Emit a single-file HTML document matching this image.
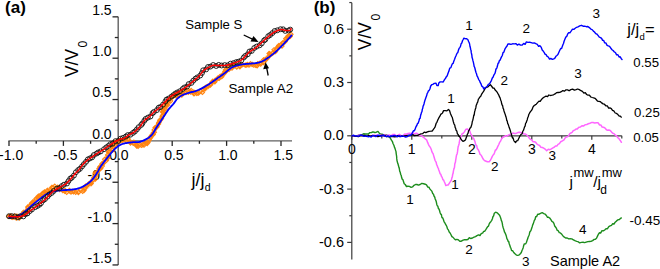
<!DOCTYPE html>
<html><head><meta charset="utf-8"><style>
html,body{margin:0;padding:0;background:#fff;}
body{width:660px;height:269px;overflow:hidden;}
svg{display:block;font-family:"Liberation Sans", sans-serif;fill:#000;}
</style></head><body>
<svg width="660" height="269" viewBox="0 0 660 269">
<line x1="8.4" y1="140.9" x2="292" y2="140.9" stroke="#606060" stroke-width="1.4"/>
<line x1="9.0" y1="140.9" x2="9.0" y2="145.9" stroke="#262626" stroke-width="1.3"/>
<line x1="63.4" y1="140.9" x2="63.4" y2="145.9" stroke="#262626" stroke-width="1.3"/>
<line x1="117.8" y1="140.9" x2="117.8" y2="145.9" stroke="#262626" stroke-width="1.3"/>
<line x1="172.2" y1="140.9" x2="172.2" y2="145.9" stroke="#262626" stroke-width="1.3"/>
<line x1="226.6" y1="140.9" x2="226.6" y2="145.9" stroke="#262626" stroke-width="1.3"/>
<line x1="281.0" y1="140.9" x2="281.0" y2="145.9" stroke="#262626" stroke-width="1.3"/>
<line x1="36.2" y1="140.9" x2="36.2" y2="143.8" stroke="#262626" stroke-width="1.3"/>
<line x1="90.6" y1="140.9" x2="90.6" y2="143.8" stroke="#262626" stroke-width="1.3"/>
<line x1="145.0" y1="140.9" x2="145.0" y2="143.8" stroke="#262626" stroke-width="1.3"/>
<line x1="199.39999999999998" y1="140.9" x2="199.39999999999998" y2="143.8" stroke="#262626" stroke-width="1.3"/>
<line x1="253.8" y1="140.9" x2="253.8" y2="143.8" stroke="#262626" stroke-width="1.3"/>
<line x1="118.2" y1="16.7" x2="118.2" y2="264.9" stroke="#606060" stroke-width="1.4"/>
<line x1="112.5" y1="16.849999999999994" x2="118.2" y2="16.849999999999994" stroke="#262626" stroke-width="1.3"/>
<line x1="112.5" y1="58.2" x2="118.2" y2="58.2" stroke="#262626" stroke-width="1.3"/>
<line x1="112.5" y1="99.55000000000001" x2="118.2" y2="99.55000000000001" stroke="#262626" stroke-width="1.3"/>
<line x1="112.5" y1="140.9" x2="118.2" y2="140.9" stroke="#262626" stroke-width="1.3"/>
<line x1="112.5" y1="182.25" x2="118.2" y2="182.25" stroke="#262626" stroke-width="1.3"/>
<line x1="112.5" y1="223.60000000000002" x2="118.2" y2="223.60000000000002" stroke="#262626" stroke-width="1.3"/>
<line x1="112.5" y1="264.95000000000005" x2="118.2" y2="264.95000000000005" stroke="#262626" stroke-width="1.3"/>
<line x1="114.8" y1="37.525000000000006" x2="118.2" y2="37.525000000000006" stroke="#262626" stroke-width="1.3"/>
<line x1="114.8" y1="78.875" x2="118.2" y2="78.875" stroke="#262626" stroke-width="1.3"/>
<line x1="114.8" y1="120.22500000000001" x2="118.2" y2="120.22500000000001" stroke="#262626" stroke-width="1.3"/>
<line x1="114.8" y1="161.57500000000002" x2="118.2" y2="161.57500000000002" stroke="#262626" stroke-width="1.3"/>
<line x1="114.8" y1="202.925" x2="118.2" y2="202.925" stroke="#262626" stroke-width="1.3"/>
<line x1="114.8" y1="244.275" x2="118.2" y2="244.275" stroke="#262626" stroke-width="1.3"/>
<text x="92.20" y="14.75" font-size="14" font-weight="normal" fill="#000">1.5</text>
<text x="92.20" y="56.10" font-size="14" font-weight="normal" fill="#000">1.0</text>
<text x="92.20" y="97.45" font-size="14" font-weight="normal" fill="#000">0.5</text>
<text x="92.20" y="138.80" font-size="14" font-weight="normal" fill="#000">0.0</text>
<text x="87.60" y="180.15" font-size="14" font-weight="normal" fill="#000">-0.5</text>
<text x="87.60" y="221.50" font-size="14" font-weight="normal" fill="#000">-1.0</text>
<text x="87.60" y="262.85" font-size="14" font-weight="normal" fill="#000">-1.5</text>
<text x="-0.90" y="159.60" font-size="14" font-weight="normal" fill="#000">-1.0</text>
<text x="53.35" y="159.60" font-size="14" font-weight="normal" fill="#000">-0.5</text>
<text x="109.20" y="159.60" font-size="14" font-weight="normal" fill="#000">0.0</text>
<text x="164.20" y="159.60" font-size="14" font-weight="normal" fill="#000">0.5</text>
<text x="218.20" y="159.60" font-size="14" font-weight="normal" fill="#000">1.0</text>
<text x="273.50" y="159.60" font-size="14" font-weight="normal" fill="#000">1.5</text>
<polyline points="9.0,217.5 9.3,217.5 9.6,217.5 10.0,217.4 10.4,217.4 10.9,217.4 11.4,217.4 11.9,217.4 12.4,217.4 13.0,217.4 13.6,217.3 14.1,217.3 14.7,217.3 15.3,217.2 15.9,217.2 16.5,217.1 17.0,217.0 17.6,217.0 18.1,216.9 18.6,216.8 19.1,216.6 19.5,216.5 20.0,216.3 20.5,216.1 21.0,215.9 21.4,215.6 21.8,215.4 22.2,215.1 22.6,214.8 23.0,214.5 23.3,214.2 23.7,213.9 24.1,213.5 24.4,213.2 24.8,212.8 25.2,212.4 25.6,211.9 26.0,211.5 26.3,211.2 26.6,210.8 26.9,210.5 27.2,210.1 27.5,209.7 27.8,209.3 28.1,208.8 28.4,208.4 28.7,208.0 29.0,207.5 29.3,207.1 29.6,206.6 29.9,206.2 30.2,205.7 30.5,205.3 30.9,204.8 31.2,204.4 31.5,204.0 31.8,203.5 32.1,203.1 32.4,202.7 32.7,202.4 33.0,202.0 33.4,201.6 33.7,201.2 34.1,200.8 34.5,200.4 34.9,200.0 35.2,199.6 35.6,199.3 36.0,198.9 36.3,198.6 36.7,198.2 37.1,197.9 37.5,197.6 37.8,197.2 38.2,196.9 38.6,196.6 38.9,196.3 39.3,196.0 39.6,195.7 40.0,195.4 40.4,195.0 40.9,194.7 41.3,194.3 41.8,194.0 42.2,193.7 42.6,193.3 43.1,193.0 43.5,192.7 43.9,192.4 44.4,192.2 44.8,191.9 45.2,191.6 45.6,191.3 46.1,191.1 46.5,190.8 47.0,190.5 47.4,190.2 47.9,190.0 48.4,189.7 48.8,189.4 49.3,189.1 49.8,188.9 50.2,188.6 50.7,188.4 51.1,188.2 51.6,188.0 52.1,187.8 52.5,187.7 53.0,187.6 53.5,187.5 54.0,187.5 54.5,187.4 55.0,187.4 55.5,187.5 56.0,187.5 56.5,187.6 57.0,187.7 57.5,187.7 58.0,187.8 58.5,188.0 59.0,188.1 59.5,188.2 60.0,188.3 60.4,188.5 60.9,188.6 61.4,188.8 61.8,189.0 62.3,189.2 62.8,189.5 63.2,189.7 63.7,189.9 64.1,190.1 64.6,190.3 65.1,190.5 65.5,190.6 66.0,190.8 66.5,190.9 67.0,191.1 67.5,191.2 68.0,191.4 68.5,191.5 69.0,191.6 69.5,191.7 70.0,191.8 70.5,191.9 71.0,192.0 71.5,192.0 72.0,192.1 72.5,192.1 73.0,192.1 73.5,192.1 74.0,192.1 74.5,192.1 75.0,192.1 75.5,192.1 76.0,192.1 76.5,192.0 77.0,191.9 77.5,191.9 78.0,191.8 78.5,191.6 79.0,191.5 79.5,191.4 79.9,191.2 80.4,191.0 80.9,190.8 81.4,190.6 81.8,190.4 82.3,190.2 82.8,189.9 83.2,189.7 83.7,189.4 84.2,189.1 84.7,188.8 85.1,188.5 85.6,188.2 86.0,187.9 86.4,187.7 86.8,187.4 87.2,187.1 87.6,186.8 88.0,186.5 88.4,186.2 88.8,185.8 89.2,185.5 89.5,185.2 89.9,184.8 90.3,184.4 90.7,184.1 91.1,183.7 91.4,183.3 91.8,182.8 92.1,182.4 92.4,182.0 92.6,181.7 92.9,181.3 93.1,180.9 93.3,180.5 93.5,180.0 93.7,179.6 93.9,179.2 94.1,178.7 94.3,178.3 94.5,177.8 94.8,177.4 95.0,176.9 95.2,176.4 95.4,176.0 95.6,175.5 95.8,175.0 96.1,174.5 96.3,174.0 96.6,173.5 96.9,173.0 97.1,172.6 97.4,172.2 97.6,171.8 97.9,171.4 98.1,170.9 98.4,170.5 98.7,170.0 99.0,169.6 99.2,169.1 99.5,168.7 99.8,168.2 100.1,167.8 100.4,167.3 100.7,166.9 101.0,166.4 101.3,165.9 101.6,165.5 101.9,165.0 102.2,164.6 102.4,164.1 102.7,163.7 103.0,163.3 103.3,162.8 103.5,162.4 103.8,162.0 104.1,161.6 104.3,161.2 104.6,160.7 104.9,160.2 105.2,159.8 105.5,159.3 105.8,158.8 106.0,158.4 106.3,157.9 106.6,157.5 106.8,157.1 107.1,156.7 107.3,156.2 107.6,155.8 107.9,155.4 108.1,155.0 108.4,154.6 108.6,154.1 108.9,153.7 109.1,153.3 109.4,152.9 109.6,152.4 109.9,152.0 110.2,151.5 110.4,151.1 110.7,150.6 111.0,150.1 111.2,149.6 111.5,149.1 111.7,148.6 112.0,148.1 112.3,147.6 112.5,147.1 112.8,146.7 113.0,146.2 113.3,145.7 113.6,145.2 113.8,144.8 114.1,144.4 114.3,144.0 114.6,143.6 114.9,143.2 115.1,142.9 115.4,142.6 115.9,142.1 116.3,141.7 116.8,141.4 117.3,141.1 117.7,140.9 118.2,140.7 118.7,140.5 119.1,140.4 119.6,140.3 120.1,140.1 120.5,140.0 121.0,139.9 121.5,139.8 122.0,139.6 122.5,139.5 123.0,139.4 123.5,139.4 124.1,139.3 124.6,139.3 125.1,139.3 125.6,139.3 126.1,139.4 126.6,139.5 127.1,139.6 127.5,139.8 128.0,140.0 128.4,140.3 128.8,140.6 129.3,140.9 129.7,141.2 130.2,141.5 130.7,141.8 131.2,142.1 131.7,142.3 132.2,142.6 132.6,142.8 133.1,143.0 133.6,143.3 134.1,143.5 134.6,143.7 135.1,144.0 135.6,144.2 136.2,144.4 136.7,144.6 137.2,144.8 137.7,145.0 138.2,145.1 138.7,145.3 139.2,145.3 139.6,145.4 140.2,145.4 140.7,145.4 141.3,145.3 141.8,145.2 142.3,145.1 142.8,144.9 143.2,144.7 143.7,144.5 144.2,144.2 144.7,143.9 145.2,143.6 145.6,143.3 145.9,143.1 146.3,142.8 146.7,142.5 147.1,142.2 147.5,141.9 147.8,141.5 148.2,141.2 148.6,140.8 149.0,140.4 149.3,140.0 149.7,139.5 150.1,139.0 150.4,138.5 150.8,138.0 151.0,137.6 151.3,137.3 151.5,136.9 151.7,136.5 152.0,136.0 152.2,135.6 152.4,135.2 152.7,134.7 152.9,134.2 153.1,133.8 153.3,133.3 153.6,132.8 153.8,132.3 154.0,131.8 154.2,131.3 154.5,130.8 154.7,130.3 154.9,129.8 155.2,129.3 155.4,128.8 155.6,128.4 155.9,127.9 156.1,127.4 156.3,127.0 156.5,126.5 156.8,126.1 157.0,125.6 157.2,125.2 157.5,124.7 157.7,124.3 157.9,123.8 158.2,123.4 158.4,122.9 158.6,122.5 158.9,122.0 159.1,121.5 159.4,121.1 159.6,120.6 159.8,120.2 160.0,119.7 160.3,119.3 160.5,118.8 160.7,118.4 160.9,117.9 161.1,117.5 161.3,117.1 161.5,116.6 161.7,116.2 161.9,115.7 162.1,115.2 162.3,114.7 162.5,114.2 162.7,113.6 162.8,113.1 163.0,112.6 163.2,112.1 163.3,111.6 163.5,111.1 163.6,110.6 163.8,110.1 163.9,109.6 164.1,109.2 164.3,108.7 164.4,108.2 164.6,107.8 164.8,107.3 165.0,106.9 165.2,106.4 165.4,106.0 165.7,105.5 165.9,105.0 166.2,104.6 166.5,104.1 166.8,103.6 167.1,103.2 167.4,102.7 167.7,102.3 168.0,101.9 168.3,101.5 168.6,101.1 168.9,100.7 169.3,100.3 169.6,99.9 169.9,99.6 170.3,99.2 170.6,98.9 171.0,98.6 171.4,98.3 171.8,98.0 172.3,97.7 172.7,97.4 173.1,97.2 173.6,97.0 174.0,96.7 174.5,96.5 175.0,96.3 175.4,96.1 175.9,95.9 176.4,95.8 176.9,95.6 177.4,95.3 177.9,95.1 178.4,94.9 178.8,94.7 179.3,94.5 179.7,94.2 180.2,94.0 180.7,93.8 181.2,93.5 181.7,93.2 182.2,93.0 182.6,92.7 183.1,92.5 183.6,92.3 184.1,92.0 184.6,91.8 185.1,91.6 185.6,91.5 186.0,91.3 186.5,91.2 187.0,91.1 187.4,91.0 187.9,90.9 188.5,91.0 189.0,91.0 189.5,91.1 190.0,91.2 190.5,91.4 191.0,91.5 191.5,91.7 192.0,91.9 192.5,92.0 192.9,92.2 193.4,92.3 193.9,92.4 194.4,92.5 194.9,92.5 195.4,92.5 195.9,92.5 196.4,92.5 196.9,92.4 197.4,92.4 197.9,92.3 198.4,92.2 198.8,92.1 199.3,92.0 199.8,91.9 200.3,91.7 200.8,91.6 201.3,91.4 201.8,91.2 202.3,91.0 202.7,90.8 203.1,90.6 203.5,90.4 204.0,90.1 204.4,89.9 204.8,89.6 205.2,89.3 205.6,89.0 206.1,88.7 206.5,88.4 206.9,88.1 207.3,87.8 207.7,87.5 208.1,87.1 208.6,86.8 209.0,86.5 209.4,86.1 209.8,85.8 210.2,85.5 210.6,85.2 211.0,84.8 211.4,84.5 211.8,84.1 212.1,83.8 212.5,83.4 212.9,83.1 213.3,82.7 213.7,82.4 214.1,82.0 214.5,81.6 214.9,81.3 215.3,80.9 215.6,80.5 216.0,80.2 216.4,79.8 216.8,79.5 217.2,79.1 217.6,78.7 218.0,78.4 218.4,78.0 218.8,77.7 219.1,77.3 219.5,77.0 219.9,76.6 220.3,76.3 220.7,75.9 221.1,75.5 221.5,75.2 221.9,74.8 222.2,74.5 222.6,74.2 223.0,73.8 223.4,73.5 223.8,73.1 224.2,72.8 224.6,72.5 225.0,72.2 225.4,71.8 225.8,71.5 226.2,71.1 226.6,70.8 227.1,70.4 227.5,70.1 227.9,69.8 228.3,69.4 228.7,69.1 229.1,68.8 229.5,68.5 230.0,68.2 230.4,68.0 230.8,67.7 231.3,67.4 231.7,67.2 232.2,67.0 232.7,66.8 233.2,66.6 233.7,66.5 234.2,66.3 234.7,66.2 235.2,66.1 235.7,65.9 236.2,65.8 236.7,65.8 237.3,65.7 237.8,65.6 238.3,65.5 238.9,65.5 239.4,65.4 239.9,65.3 240.5,65.3 241.0,65.2 241.5,65.2 242.0,65.2 242.5,65.1 243.1,65.1 243.6,65.1 244.1,65.1 244.7,65.1 245.2,65.2 245.7,65.2 246.3,65.2 246.8,65.2 247.3,65.3 247.9,65.3 248.4,65.3 248.9,65.3 249.4,65.3 249.9,65.3 250.3,65.3 250.8,65.3 251.4,65.3 252.0,65.2 252.5,65.2 253.1,65.1 253.6,65.1 254.2,65.0 254.7,64.9 255.2,64.8 255.7,64.8 256.2,64.7 256.7,64.6 257.1,64.5 257.6,64.4 258.0,64.3 258.6,64.1 259.2,64.0 259.8,63.8 260.3,63.7 260.8,63.5 261.2,63.3 261.7,63.1 262.1,62.8 262.5,62.5 262.9,62.2 263.1,61.8 263.3,61.5 263.5,61.1 263.7,60.7 263.9,60.2 264.3,59.7 264.8,59.2 265.4,58.5 265.7,58.3 266.0,58.0 266.3,57.7 266.6,57.5 266.9,57.2 267.3,56.9 267.6,56.6 268.0,56.3 268.4,55.9 268.8,55.6 269.2,55.3 269.7,55.0 270.1,54.6 270.5,54.3 271.0,53.9 271.4,53.6 271.9,53.2 272.3,52.9 272.7,52.5 273.2,52.2 273.6,51.8 274.0,51.4 274.5,51.1 274.9,50.7 275.3,50.4 275.7,50.0 276.1,49.7 276.4,49.3 276.8,49.0 277.2,48.6 277.6,48.2 278.0,47.9 278.4,47.5 278.8,47.1 279.2,46.7 279.6,46.4 280.0,46.0 280.3,45.6 280.7,45.2 281.1,44.8 281.5,44.4 281.9,44.0 282.3,43.7 282.6,43.3 283.0,42.9 283.4,42.6 283.7,42.2 284.1,41.9 284.4,41.5 284.7,41.2 285.0,40.9 285.3,40.6 285.6,40.3 285.9,40.0 286.4,39.5 286.9,39.0 287.3,38.5 287.8,38.1 288.2,37.6 288.6,37.2 288.9,36.8 289.3,36.4 289.6,36.1 289.9,35.8 290.1,35.5 290.4,35.2 290.6,34.9 290.8,34.7 291.0,34.5" fill="none" stroke="#ffa040" stroke-width="4.0" stroke-linejoin="round" stroke-linecap="round" opacity="0.35"/>
<path d="M8.6,214.3L10.7,216.4L8.6,218.5L6.5,216.4ZM10.7,214.0L12.8,216.1L10.7,218.2L8.6,216.1ZM11.9,214.9L14.0,217.0L11.9,219.1L9.8,217.0ZM12.1,215.3L14.2,217.4L12.1,219.5L10.0,217.4ZM13.2,215.0L15.3,217.1L13.2,219.2L11.1,217.1ZM14.5,213.8L16.6,215.9L14.5,218.0L12.4,215.9ZM16.3,216.1L18.4,218.2L16.3,220.3L14.2,218.2ZM16.8,214.0L18.9,216.1L16.8,218.2L14.7,216.1ZM19.3,216.0L21.4,218.1L19.3,220.2L17.2,218.1ZM20.7,213.7L22.8,215.8L20.7,217.9L18.6,215.8ZM22.8,211.8L24.9,213.9L22.8,216.0L20.7,213.9ZM23.7,211.8L25.8,213.9L23.7,216.0L21.6,213.9ZM23.4,210.2L25.5,212.3L23.4,214.4L21.3,212.3ZM24.8,211.3L26.9,213.4L24.8,215.5L22.7,213.4ZM25.4,209.7L27.5,211.8L25.4,213.9L23.3,211.8ZM27.2,208.0L29.3,210.1L27.2,212.2L25.1,210.1ZM27.9,205.8L30.0,207.9L27.9,210.0L25.8,207.9ZM27.8,204.9L29.9,207.0L27.8,209.1L25.7,207.0ZM30.0,204.3L32.1,206.4L30.0,208.5L27.9,206.4ZM30.2,203.4L32.3,205.5L30.2,207.6L28.1,205.5ZM31.4,201.2L33.5,203.3L31.4,205.4L29.3,203.3ZM33.0,201.3L35.1,203.4L33.0,205.5L30.9,203.4ZM32.9,199.7L35.0,201.8L32.9,203.9L30.8,201.8ZM34.5,199.5L36.6,201.6L34.5,203.7L32.4,201.6ZM36.1,196.5L38.2,198.6L36.1,200.7L34.0,198.6ZM37.7,194.9L39.8,197.0L37.7,199.1L35.6,197.0ZM37.7,196.0L39.8,198.1L37.7,200.2L35.6,198.1ZM38.2,194.2L40.3,196.3L38.2,198.4L36.1,196.3ZM39.1,193.8L41.2,195.9L39.1,198.0L37.0,195.9ZM41.4,192.8L43.5,194.9L41.4,197.0L39.3,194.9ZM42.5,191.3L44.6,193.4L42.5,195.5L40.4,193.4ZM43.5,191.2L45.6,193.3L43.5,195.4L41.4,193.3ZM44.5,189.9L46.6,192.0L44.5,194.1L42.4,192.0ZM46.3,190.7L48.4,192.8L46.3,194.9L44.2,192.8ZM46.9,188.9L49.0,191.0L46.9,193.1L44.8,191.0ZM47.5,188.2L49.6,190.3L47.5,192.4L45.4,190.3ZM50.0,188.4L52.1,190.5L50.0,192.6L47.9,190.5ZM51.8,185.4L53.9,187.5L51.8,189.6L49.7,187.5ZM52.3,186.1L54.4,188.2L52.3,190.3L50.2,188.2ZM53.0,185.2L55.1,187.3L53.0,189.4L50.9,187.3ZM54.8,184.1L56.9,186.2L54.8,188.3L52.7,186.2ZM56.1,186.4L58.2,188.5L56.1,190.6L54.0,188.5ZM57.8,185.1L59.9,187.2L57.8,189.3L55.7,187.2ZM59.7,187.4L61.8,189.5L59.7,191.6L57.6,189.5ZM60.5,186.6L62.6,188.7L60.5,190.8L58.4,188.7ZM62.8,188.6L64.9,190.7L62.8,192.8L60.7,190.7ZM64.8,189.2L66.9,191.3L64.8,193.4L62.7,191.3ZM65.1,188.3L67.2,190.4L65.1,192.5L63.0,190.4ZM66.7,190.2L68.8,192.3L66.7,194.4L64.6,192.3ZM69.4,188.3L71.5,190.4L69.4,192.5L67.3,190.4ZM69.4,188.8L71.5,190.9L69.4,193.0L67.3,190.9ZM71.0,189.9L73.1,192.0L71.0,194.1L68.9,192.0ZM73.2,189.3L75.3,191.4L73.2,193.5L71.1,191.4ZM73.5,189.8L75.6,191.9L73.5,194.0L71.4,191.9ZM75.7,190.2L77.8,192.3L75.7,194.4L73.6,192.3ZM78.4,190.4L80.5,192.5L78.4,194.6L76.3,192.5ZM79.0,189.8L81.1,191.9L79.0,194.0L76.9,191.9ZM80.8,187.5L82.9,189.6L80.8,191.7L78.7,189.6ZM82.6,189.2L84.7,191.3L82.6,193.4L80.5,191.3ZM84.0,188.5L86.1,190.6L84.0,192.7L81.9,190.6ZM84.4,186.4L86.5,188.5L84.4,190.6L82.3,188.5ZM84.8,186.5L86.9,188.6L84.8,190.7L82.7,188.6ZM85.9,183.9L88.0,186.0L85.9,188.1L83.8,186.0ZM87.4,183.3L89.5,185.4L87.4,187.5L85.3,185.4ZM88.8,182.0L90.9,184.1L88.8,186.2L86.7,184.1ZM89.3,181.2L91.4,183.3L89.3,185.4L87.2,183.3ZM90.6,180.7L92.7,182.8L90.6,184.9L88.5,182.8ZM91.2,181.5L93.3,183.6L91.2,185.7L89.1,183.6ZM93.1,178.0L95.2,180.1L93.1,182.2L91.0,180.1ZM93.0,177.5L95.1,179.6L93.0,181.7L90.9,179.6ZM93.9,175.4L96.0,177.5L93.9,179.6L91.8,177.5ZM95.4,176.9L97.5,179.0L95.4,181.1L93.3,179.0ZM95.3,173.8L97.4,175.9L95.3,178.0L93.2,175.9ZM95.3,171.1L97.4,173.2L95.3,175.3L93.2,173.2ZM96.3,170.7L98.4,172.8L96.3,174.9L94.2,172.8ZM98.0,169.0L100.1,171.1L98.0,173.2L95.9,171.1ZM97.2,170.3L99.3,172.4L97.2,174.5L95.1,172.4ZM99.0,166.4L101.1,168.5L99.0,170.6L96.9,168.5ZM99.9,164.6L102.0,166.7L99.9,168.8L97.8,166.7ZM100.8,166.3L102.9,168.4L100.8,170.5L98.7,168.4ZM102.3,164.0L104.4,166.1L102.3,168.2L100.2,166.1ZM102.0,161.6L104.1,163.7L102.0,165.8L99.9,163.7ZM102.6,161.6L104.7,163.7L102.6,165.8L100.5,163.7ZM104.1,160.4L106.2,162.5L104.1,164.6L102.0,162.5ZM104.6,157.2L106.7,159.3L104.6,161.4L102.5,159.3ZM106.4,158.3L108.5,160.4L106.4,162.5L104.3,160.4ZM107.3,156.4L109.4,158.5L107.3,160.6L105.2,158.5ZM108.0,154.9L110.1,157.0L108.0,159.1L105.9,157.0ZM107.6,152.9L109.7,155.0L107.6,157.1L105.5,155.0ZM108.6,150.1L110.7,152.2L108.6,154.3L106.5,152.2ZM108.7,149.6L110.8,151.7L108.7,153.8L106.6,151.7ZM109.9,149.6L112.0,151.7L109.9,153.8L107.8,151.7ZM112.1,147.4L114.2,149.5L112.1,151.6L110.0,149.5ZM112.6,148.1L114.7,150.2L112.6,152.3L110.5,150.2ZM113.2,145.1L115.3,147.2L113.2,149.3L111.1,147.2ZM112.2,143.7L114.3,145.8L112.2,147.9L110.1,145.8ZM113.0,142.2L115.1,144.3L113.0,146.4L110.9,144.3ZM114.6,143.2L116.7,145.3L114.6,147.4L112.5,145.3ZM115.8,140.7L117.9,142.8L115.8,144.9L113.7,142.8ZM116.6,140.6L118.7,142.7L116.6,144.8L114.5,142.7ZM116.4,139.5L118.5,141.6L116.4,143.7L114.3,141.6ZM119.5,139.3L121.6,141.4L119.5,143.5L117.4,141.4ZM120.6,138.0L122.7,140.1L120.6,142.2L118.5,140.1ZM120.9,138.6L123.0,140.7L120.9,142.8L118.8,140.7ZM122.7,138.3L124.8,140.4L122.7,142.5L120.6,140.4ZM125.5,136.9L127.6,139.0L125.5,141.1L123.4,139.0ZM125.9,138.7L128.0,140.8L125.9,142.9L123.8,140.8ZM128.0,136.7L130.1,138.8L128.0,140.9L125.9,138.8ZM128.1,137.3L130.2,139.4L128.1,141.5L126.0,139.4ZM131.0,140.3L133.1,142.4L131.0,144.5L128.9,142.4ZM130.5,141.0L132.6,143.1L130.5,145.2L128.4,143.1ZM133.2,141.0L135.3,143.1L133.2,145.2L131.1,143.1ZM133.3,141.3L135.4,143.4L133.3,145.5L131.2,143.4ZM133.9,140.1L136.0,142.2L133.9,144.3L131.8,142.2ZM136.6,142.6L138.7,144.7L136.6,146.8L134.5,144.7ZM136.7,143.9L138.8,146.0L136.7,148.1L134.6,146.0ZM138.1,144.2L140.2,146.3L138.1,148.4L136.0,146.3ZM140.3,142.4L142.4,144.5L140.3,146.6L138.2,144.5ZM140.2,142.6L142.3,144.7L140.2,146.8L138.1,144.7ZM141.7,143.3L143.8,145.4L141.7,147.5L139.6,145.4ZM143.2,142.1L145.3,144.2L143.2,146.3L141.1,144.2ZM144.0,143.1L146.1,145.2L144.0,147.3L141.9,145.2ZM145.7,140.8L147.8,142.9L145.7,145.0L143.6,142.9ZM147.2,141.4L149.3,143.5L147.2,145.6L145.1,143.5ZM148.0,140.4L150.1,142.5L148.0,144.6L145.9,142.5ZM149.3,138.0L151.4,140.1L149.3,142.2L147.2,140.1ZM150.1,135.4L152.2,137.5L150.1,139.6L148.0,137.5ZM150.7,134.9L152.8,137.0L150.7,139.1L148.6,137.0ZM150.5,135.7L152.6,137.8L150.5,139.9L148.4,137.8ZM151.5,133.4L153.6,135.5L151.5,137.6L149.4,135.5ZM153.3,132.3L155.4,134.4L153.3,136.5L151.2,134.4ZM153.2,130.8L155.3,132.9L153.2,135.0L151.1,132.9ZM154.4,130.1L156.5,132.2L154.4,134.3L152.3,132.2ZM154.1,127.9L156.2,130.0L154.1,132.1L152.0,130.0ZM155.1,125.5L157.2,127.6L155.1,129.7L153.0,127.6ZM156.9,124.9L159.0,127.0L156.9,129.1L154.8,127.0ZM157.1,124.4L159.2,126.5L157.1,128.6L155.0,126.5ZM158.5,122.0L160.6,124.1L158.5,126.2L156.4,124.1ZM158.6,120.8L160.7,122.9L158.6,125.0L156.5,122.9ZM159.1,120.1L161.2,122.2L159.1,124.3L157.0,122.2ZM159.7,118.2L161.8,120.3L159.7,122.4L157.6,120.3ZM160.4,118.1L162.5,120.2L160.4,122.3L158.3,120.2ZM161.5,116.6L163.6,118.7L161.5,120.8L159.4,118.7ZM162.6,113.3L164.7,115.4L162.6,117.5L160.5,115.4ZM162.2,114.5L164.3,116.6L162.2,118.7L160.1,116.6ZM163.4,110.4L165.5,112.5L163.4,114.6L161.3,112.5ZM162.4,109.8L164.5,111.9L162.4,114.0L160.3,111.9ZM162.8,107.7L164.9,109.8L162.8,111.9L160.7,109.8ZM163.2,107.6L165.3,109.7L163.2,111.8L161.1,109.7ZM165.2,106.9L167.3,109.0L165.2,111.1L163.1,109.0ZM164.5,105.0L166.6,107.1L164.5,109.2L162.4,107.1ZM166.2,101.8L168.3,103.9L166.2,106.0L164.1,103.9ZM167.5,103.0L169.6,105.1L167.5,107.2L165.4,105.1ZM167.1,101.7L169.2,103.8L167.1,105.9L165.0,103.8ZM168.4,98.9L170.5,101.0L168.4,103.1L166.3,101.0ZM170.6,98.9L172.7,101.0L170.6,103.1L168.5,101.0ZM170.0,96.6L172.1,98.7L170.0,100.8L167.9,98.7ZM171.9,95.3L174.0,97.4L171.9,99.5L169.8,97.4ZM172.5,94.5L174.6,96.6L172.5,98.7L170.4,96.6ZM174.9,92.9L177.0,95.0L174.9,97.1L172.8,95.0ZM176.0,93.7L178.1,95.8L176.0,97.9L173.9,95.8ZM176.4,92.7L178.5,94.8L176.4,96.9L174.3,94.8ZM178.6,92.8L180.7,94.9L178.6,97.0L176.5,94.9ZM178.9,93.7L181.0,95.8L178.9,97.9L176.8,95.8ZM181.8,92.9L183.9,95.0L181.8,97.1L179.7,95.0ZM181.4,90.1L183.5,92.2L181.4,94.3L179.3,92.2ZM182.2,91.3L184.3,93.4L182.2,95.5L180.1,93.4ZM184.2,88.6L186.3,90.7L184.2,92.8L182.1,90.7ZM185.9,90.5L188.0,92.6L185.9,94.7L183.8,92.6ZM188.0,88.1L190.1,90.2L188.0,92.3L185.9,90.2ZM188.3,90.2L190.4,92.3L188.3,94.4L186.2,92.3ZM190.7,89.9L192.8,92.0L190.7,94.1L188.6,92.0ZM191.2,88.3L193.3,90.4L191.2,92.5L189.1,90.4ZM193.8,90.0L195.9,92.1L193.8,94.2L191.7,92.1ZM194.0,91.8L196.1,93.9L194.0,96.0L191.9,93.9ZM196.7,91.3L198.8,93.4L196.7,95.5L194.6,93.4ZM197.0,91.3L199.1,93.4L197.0,95.5L194.9,93.4ZM198.5,91.1L200.6,93.2L198.5,95.3L196.4,93.2ZM200.7,89.0L202.8,91.1L200.7,93.2L198.6,91.1ZM202.4,90.3L204.5,92.4L202.4,94.5L200.3,92.4ZM203.1,87.1L205.2,89.2L203.1,91.3L201.0,89.2ZM204.9,86.7L207.0,88.8L204.9,90.9L202.8,88.8ZM205.3,85.5L207.4,87.6L205.3,89.7L203.2,87.6ZM206.4,84.7L208.5,86.8L206.4,88.9L204.3,86.8ZM208.2,84.1L210.3,86.2L208.2,88.3L206.1,86.2ZM210.3,83.0L212.4,85.1L210.3,87.2L208.2,85.1ZM211.0,81.7L213.1,83.8L211.0,85.9L208.9,83.8ZM211.8,80.1L213.9,82.2L211.8,84.3L209.7,82.2ZM212.8,79.1L214.9,81.2L212.8,83.3L210.7,81.2ZM214.9,79.7L217.0,81.8L214.9,83.9L212.8,81.8ZM215.0,78.3L217.1,80.4L215.0,82.5L212.9,80.4ZM217.7,76.1L219.8,78.2L217.7,80.3L215.6,78.2ZM218.6,76.1L220.7,78.2L218.6,80.3L216.5,78.2ZM219.1,76.3L221.2,78.4L219.1,80.5L217.0,78.4ZM220.1,74.2L222.2,76.3L220.1,78.4L218.0,76.3ZM221.8,74.6L223.9,76.7L221.8,78.8L219.7,76.7ZM222.3,73.1L224.4,75.2L222.3,77.3L220.2,75.2ZM224.2,71.5L226.3,73.6L224.2,75.7L222.1,73.6ZM224.8,69.6L226.9,71.7L224.8,73.8L222.7,71.7ZM225.4,67.8L227.5,69.9L225.4,72.0L223.3,69.9ZM226.6,68.8L228.7,70.9L226.6,73.0L224.5,70.9ZM228.2,66.0L230.3,68.1L228.2,70.2L226.1,68.1ZM229.1,67.2L231.2,69.3L229.1,71.4L227.0,69.3ZM232.0,65.9L234.1,68.0L232.0,70.1L229.9,68.0ZM232.2,63.9L234.3,66.0L232.2,68.1L230.1,66.0ZM233.7,64.1L235.8,66.2L233.7,68.3L231.6,66.2ZM235.0,63.7L237.1,65.8L235.0,67.9L232.9,65.8ZM236.8,65.0L238.9,67.1L236.8,69.2L234.7,67.1ZM239.8,63.5L241.9,65.6L239.8,67.7L237.7,65.6ZM239.9,64.7L242.0,66.8L239.9,68.9L237.8,66.8ZM241.6,62.6L243.7,64.7L241.6,66.8L239.5,64.7ZM242.6,62.6L244.7,64.7L242.6,66.8L240.5,64.7ZM245.2,63.1L247.3,65.2L245.2,67.3L243.1,65.2ZM246.2,63.1L248.3,65.2L246.2,67.3L244.1,65.2ZM247.4,62.4L249.5,64.5L247.4,66.6L245.3,64.5ZM249.0,62.9L251.1,65.0L249.0,67.1L246.9,65.0ZM250.5,61.6L252.6,63.7L250.5,65.8L248.4,63.7ZM252.1,62.2L254.2,64.3L252.1,66.4L250.0,64.3ZM253.8,63.1L255.9,65.2L253.8,67.3L251.7,65.2ZM255.7,63.2L257.8,65.3L255.7,67.4L253.6,65.3ZM257.1,63.7L259.2,65.8L257.1,67.9L255.0,65.8ZM257.8,61.6L259.9,63.7L257.8,65.8L255.7,63.7ZM260.2,60.8L262.3,62.9L260.2,65.0L258.1,62.9ZM260.7,62.0L262.8,64.1L260.7,66.2L258.6,64.1ZM260.7,62.0L262.8,64.1L260.7,66.2L258.6,64.1ZM263.6,60.5L265.7,62.6L263.6,64.7L261.5,62.6ZM264.0,60.0L266.1,62.1L264.0,64.2L261.9,62.1ZM263.6,57.7L265.7,59.8L263.6,61.9L261.5,59.8ZM265.4,57.5L267.5,59.6L265.4,61.7L263.3,59.6ZM266.9,56.7L269.0,58.8L266.9,60.9L264.8,58.8ZM267.4,56.0L269.5,58.1L267.4,60.2L265.3,58.1ZM268.8,54.5L270.9,56.6L268.8,58.7L266.7,56.6ZM269.1,51.4L271.2,53.5L269.1,55.6L267.0,53.5ZM269.8,51.7L271.9,53.8L269.8,55.9L267.7,53.8ZM270.6,52.6L272.7,54.7L270.6,56.8L268.5,54.7ZM272.4,51.2L274.5,53.3L272.4,55.4L270.3,53.3ZM273.4,50.6L275.5,52.7L273.4,54.8L271.3,52.7ZM274.0,47.7L276.1,49.8L274.0,51.9L271.9,49.8ZM275.5,49.4L277.6,51.5L275.5,53.6L273.4,51.5ZM276.1,47.7L278.2,49.8L276.1,51.9L274.0,49.8ZM277.5,45.1L279.6,47.2L277.5,49.3L275.4,47.2ZM278.9,44.6L281.0,46.7L278.9,48.8L276.8,46.7ZM278.7,43.5L280.8,45.6L278.7,47.7L276.6,45.6ZM280.8,42.5L282.9,44.6L280.8,46.7L278.7,44.6ZM282.0,43.9L284.1,46.0L282.0,48.1L279.9,46.0ZM282.6,40.8L284.7,42.9L282.6,45.0L280.5,42.9ZM283.7,40.7L285.8,42.8L283.7,44.9L281.6,42.8ZM285.2,39.5L287.3,41.6L285.2,43.7L283.1,41.6ZM285.9,36.8L288.0,38.9L285.9,41.0L283.8,38.9ZM285.7,36.6L287.8,38.7L285.7,40.8L283.6,38.7ZM287.8,35.8L289.9,37.9L287.8,40.0L285.7,37.9ZM288.3,34.0L290.4,36.1L288.3,38.2L286.2,36.1ZM288.0,34.0L290.1,36.1L288.0,38.2L285.9,36.1ZM290.2,34.3L292.3,36.4L290.2,38.5L288.1,36.4ZM291.0,32.2L293.1,34.3L291.0,36.4L288.9,34.3Z" fill="none" stroke="#ff8410" stroke-width="1.1"/>
<polyline points="9.1,217.8 9.4,217.8 9.9,217.8 10.4,217.8 10.9,217.7 11.6,217.7 12.3,217.6 13.0,217.4 13.4,217.3 13.9,217.2 14.3,217.1 14.8,216.9 15.3,216.8 15.8,216.6 16.4,216.5 16.9,216.3 17.4,216.1 17.9,215.9 18.5,215.7 19.0,215.5 19.5,215.2 19.9,215.0 20.4,214.7 20.8,214.5 21.2,214.2 21.7,213.9 22.1,213.6 22.5,213.3 23.0,213.0 23.4,212.6 23.8,212.3 24.3,212.0 24.7,211.6 25.1,211.3 25.6,210.9 26.0,210.6 26.4,210.3 26.8,210.0 27.2,209.6 27.5,209.3 27.9,209.0 28.3,208.6 28.7,208.3 29.1,207.9 29.5,207.6 29.9,207.2 30.3,206.9 30.7,206.5 31.1,206.1 31.4,205.8 31.8,205.5 32.2,205.1 32.6,204.8 33.0,204.5 33.4,204.1 33.8,203.8 34.2,203.5 34.6,203.1 35.0,202.8 35.4,202.5 35.8,202.2 36.2,201.9 36.6,201.5 37.0,201.2 37.4,200.9 37.8,200.6 38.2,200.3 38.7,199.9 39.1,199.6 39.5,199.3 39.9,199.0 40.3,198.7 40.7,198.3 41.1,198.0 41.5,197.7 42.0,197.3 42.4,197.0 42.8,196.7 43.2,196.4 43.6,196.0 44.1,195.7 44.5,195.4 44.9,195.1 45.3,194.9 45.7,194.6 46.1,194.3 46.5,194.1 47.0,193.8 47.5,193.6 48.0,193.3 48.4,193.1 48.9,192.9 49.3,192.7 49.8,192.5 50.3,192.4 50.7,192.2 51.2,192.0 51.6,191.9 52.1,191.8 52.5,191.6 53.0,191.5 53.5,191.4 54.0,191.3 54.5,191.1 55.0,191.1 55.5,191.0 56.0,190.9 56.5,190.8 57.0,190.8 57.5,190.7 58.0,190.7 58.5,190.6 59.0,190.6 59.5,190.5 60.0,190.4 60.5,190.4 61.0,190.4 61.5,190.3 62.0,190.3 62.5,190.2 63.0,190.2 63.5,190.2 64.0,190.1 64.5,190.1 65.0,190.1 65.5,190.0 66.0,190.0 66.5,190.0 67.0,189.9 67.5,189.9 68.0,189.9 68.5,189.8 69.0,189.8 69.5,189.8 70.0,189.8 70.5,189.7 71.0,189.7 71.5,189.6 72.0,189.6 72.5,189.5 73.0,189.4 73.5,189.4 74.0,189.3 74.5,189.2 75.0,189.1 75.5,189.1 76.0,189.0 76.5,188.9 77.0,188.8 77.5,188.6 78.0,188.5 78.5,188.4 79.0,188.2 79.5,188.0 79.9,187.9 80.4,187.7 80.9,187.5 81.4,187.3 81.8,187.1 82.3,186.8 82.8,186.6 83.2,186.4 83.7,186.1 84.2,185.9 84.7,185.6 85.1,185.3 85.6,185.0 86.0,184.7 86.4,184.5 86.8,184.2 87.3,183.9 87.7,183.6 88.1,183.3 88.5,183.0 88.9,182.7 89.4,182.3 89.8,182.0 90.2,181.6 90.6,181.3 91.0,180.9 91.4,180.6 91.7,180.2 92.1,179.8 92.4,179.4 92.8,179.0 93.1,178.6 93.5,178.2 93.8,177.8 94.1,177.3 94.4,176.9 94.7,176.4 95.1,176.0 95.4,175.5 95.7,175.1 95.9,174.6 96.2,174.2 96.5,173.7 96.8,173.3 97.0,172.9 97.3,172.5 97.6,172.0 97.9,171.5 98.1,171.1 98.4,170.6 98.6,170.2 98.8,169.7 99.0,169.3 99.3,168.8 99.5,168.4 99.7,167.9 100.0,167.5 100.3,167.0 100.6,166.5 100.9,166.1 101.1,165.8 101.4,165.4 101.7,165.0 102.0,164.6 102.3,164.2 102.6,163.8 102.9,163.4 103.2,163.0 103.5,162.6 103.9,162.1 104.2,161.7 104.5,161.3 104.8,160.9 105.2,160.5 105.5,160.1 105.8,159.7 106.1,159.3 106.4,158.9 106.8,158.5 107.1,158.0 107.4,157.6 107.7,157.2 108.1,156.8 108.4,156.3 108.7,155.9 109.1,155.5 109.4,155.1 109.7,154.7 110.0,154.2 110.4,153.8 110.7,153.4 111.0,153.1 111.4,152.7 111.7,152.3 112.1,151.9 112.4,151.5 112.8,151.1 113.2,150.7 113.6,150.3 113.9,149.9 114.3,149.5 114.7,149.1 115.1,148.7 115.4,148.4 115.8,148.0 116.2,147.7 116.6,147.4 116.9,147.1 117.3,146.8 117.8,146.5 118.2,146.1 118.6,145.8 119.0,145.6 119.4,145.3 119.9,145.1 120.3,144.8 120.8,144.6 121.2,144.4 121.8,144.2 122.3,144.0 122.9,143.8 123.3,143.7 123.8,143.6 124.3,143.5 124.7,143.3 125.3,143.2 125.8,143.2 126.3,143.1 126.9,143.0 127.4,142.9 128.0,142.8 128.5,142.7 129.1,142.7 129.6,142.6 130.2,142.5 130.7,142.5 131.2,142.4 131.7,142.4 132.2,142.3 132.8,142.2 133.3,142.2 133.8,142.2 134.4,142.2 134.9,142.2 135.4,142.2 135.9,142.2 136.4,142.2 136.9,142.2 137.4,142.2 137.9,142.1 138.4,142.1 139.0,142.0 139.5,141.9 140.0,141.8 140.5,141.7 140.9,141.5 141.4,141.4 141.9,141.2 142.4,141.0 142.8,140.8 143.3,140.6 143.8,140.4 144.3,140.1 144.8,139.9 145.3,139.7 145.7,139.4 146.2,139.2 146.6,138.9 147.0,138.7 147.5,138.5 147.8,138.2 148.2,138.0 148.7,137.7 149.2,137.3 149.6,137.0 150.0,136.7 150.3,136.4 150.7,136.0 151.0,135.7 151.3,135.3 151.6,135.0 152.0,134.6 152.3,134.2 152.6,133.8 152.9,133.4 153.1,133.1 153.4,132.7 153.6,132.3 153.9,131.9 154.1,131.5 154.3,131.1 154.6,130.7 154.8,130.3 155.1,129.8 155.4,129.3 155.7,128.8 156.0,128.3 156.3,127.8 156.5,127.4 156.8,127.1 157.0,126.7 157.3,126.3 157.5,125.9 157.8,125.5 158.1,125.1 158.3,124.7 158.6,124.3 158.9,123.8 159.2,123.4 159.5,123.0 159.8,122.5 160.1,122.1 160.4,121.6 160.7,121.2 161.0,120.8 161.3,120.3 161.5,119.9 161.8,119.4 162.1,119.0 162.4,118.6 162.7,118.2 163.0,117.8 163.2,117.3 163.5,116.9 163.8,116.4 164.1,116.0 164.4,115.6 164.7,115.1 165.0,114.7 165.3,114.2 165.6,113.8 165.9,113.4 166.1,112.9 166.4,112.5 166.7,112.1 167.0,111.7 167.3,111.3 167.5,110.9 167.8,110.5 168.1,110.1 168.3,109.7 168.6,109.4 169.0,108.9 169.3,108.4 169.7,108.0 170.1,107.6 170.4,107.2 170.8,106.8 171.1,106.4 171.5,106.0 171.8,105.6 172.1,105.3 172.5,104.9 172.8,104.6 173.1,104.2 173.4,103.9 173.7,103.5 174.1,103.1 174.4,102.6 174.7,102.2 175.0,101.7 175.3,101.3 175.6,100.9 175.9,100.5 176.1,100.1 176.4,99.7 176.7,99.3 177.1,98.9 177.4,98.6 177.8,98.2 178.2,97.9 178.6,97.5 179.0,97.2 179.5,96.9 179.9,96.6 180.4,96.3 180.8,96.0 181.2,95.8 181.7,95.5 182.1,95.3 182.6,95.0 183.1,94.8 183.6,94.6 184.1,94.4 184.7,94.2 185.2,94.0 185.7,93.8 186.2,93.7 186.7,93.5 187.2,93.3 187.8,93.2 188.3,93.0 188.8,92.8 189.4,92.7 189.9,92.5 190.4,92.4 190.9,92.2 191.4,92.1 191.9,92.0 192.4,91.9 192.8,91.8 193.3,91.8 193.7,91.7 194.3,91.5 195.0,91.3 195.4,91.2 195.8,91.0 196.2,90.8 196.7,90.7 197.2,90.5 197.6,90.3 198.1,90.0 198.7,89.8 199.2,89.6 199.7,89.4 200.2,89.1 200.8,88.9 201.3,88.6 201.8,88.4 202.3,88.1 202.7,87.9 203.2,87.6 203.6,87.4 204.1,87.1 204.5,86.9 204.9,86.6 205.4,86.4 205.8,86.1 206.3,85.8 206.7,85.6 207.2,85.3 207.6,85.0 208.0,84.7 208.5,84.5 208.9,84.2 209.4,83.9 209.8,83.6 210.2,83.3 210.6,83.1 211.0,82.8 211.5,82.5 211.9,82.2 212.3,81.9 212.7,81.6 213.1,81.3 213.5,81.0 213.9,80.7 214.3,80.5 214.7,80.2 215.1,79.9 215.6,79.6 216.0,79.3 216.4,79.0 216.8,78.7 217.2,78.4 217.6,78.1 218.0,77.8 218.4,77.5 218.8,77.3 219.2,77.0 219.7,76.7 220.1,76.4 220.5,76.1 220.9,75.8 221.3,75.6 221.7,75.3 222.1,75.0 222.5,74.7 222.9,74.4 223.4,74.1 223.8,73.8 224.2,73.5 224.6,73.2 225.0,72.9 225.4,72.6 225.8,72.3 226.2,71.9 226.5,71.6 226.9,71.3 227.3,70.9 227.7,70.6 228.1,70.3 228.5,69.9 228.9,69.6 229.3,69.3 229.7,69.0 230.1,68.6 230.5,68.4 230.9,68.1 231.3,67.8 231.8,67.5 232.2,67.3 232.6,67.1 233.1,66.9 233.6,66.7 234.0,66.5 234.5,66.3 235.0,66.1 235.5,66.0 236.0,65.8 236.5,65.7 237.0,65.5 237.5,65.4 238.0,65.3 238.5,65.1 239.0,65.0 239.5,64.9 240.0,64.8 240.5,64.7 241.0,64.6 241.5,64.5 242.0,64.4 242.5,64.3 243.1,64.2 243.6,64.2 244.1,64.1 244.7,64.1 245.2,64.0 245.7,64.0 246.2,63.9 246.8,63.9 247.3,63.9 247.8,63.8 248.3,63.8 248.8,63.8 249.3,63.7 249.8,63.7 250.3,63.6 250.8,63.6 251.4,63.5 251.9,63.5 252.5,63.4 253.0,63.4 253.5,63.4 254.1,63.3 254.6,63.3 255.1,63.2 255.6,63.2 256.1,63.1 256.6,63.0 257.1,62.9 257.6,62.8 258.1,62.7 258.6,62.6 259.1,62.5 259.6,62.3 260.1,62.2 260.5,62.0 261.0,61.8 261.4,61.7 261.8,61.5 262.3,61.3 262.8,61.0 263.2,60.8 263.7,60.5 264.3,60.2 264.8,59.9 265.4,59.5 265.7,59.3 266.1,59.0 266.5,58.8 266.9,58.6 267.2,58.3 267.6,58.0 268.0,57.7 268.4,57.5 268.9,57.2 269.3,56.9 269.7,56.6 270.1,56.3 270.6,55.9 271.0,55.6 271.4,55.3 271.9,54.9 272.3,54.6 272.7,54.3 273.2,53.9 273.6,53.6 274.0,53.2 274.4,52.9 274.9,52.5 275.3,52.2 275.7,51.8 276.1,51.5 276.4,51.1 276.8,50.8 277.2,50.4 277.6,50.1 278.0,49.7 278.4,49.3 278.8,49.0 279.1,48.6 279.5,48.2 279.9,47.8 280.3,47.4 280.7,47.0 281.1,46.6 281.5,46.2 281.8,45.8 282.2,45.4 282.6,45.1 283.0,44.7 283.3,44.3 283.7,43.9 284.0,43.6 284.4,43.2 284.7,42.9 285.0,42.5 285.3,42.2 285.6,41.9 285.9,41.6 286.4,41.1 286.9,40.6 287.3,40.1 287.8,39.6 288.2,39.2 288.6,38.7 289.0,38.3 289.4,37.9 289.7,37.5 290.1,37.1 290.4,36.7 290.7,36.4 290.9,36.1 291.2,35.9 291.4,35.6 291.6,35.4" fill="none" stroke="#0000ff" stroke-width="1.8" stroke-linejoin="round" stroke-linecap="round" />
<path d="M6.6,216.2a2.45,2.45 0 1,0 4.9,0a2.45,2.45 0 1,0 -4.9,0M9.2,216.1a2.45,2.45 0 1,0 4.9,0a2.45,2.45 0 1,0 -4.9,0M12.4,216.4a2.45,2.45 0 1,0 4.9,0a2.45,2.45 0 1,0 -4.9,0M15.5,217.4a2.45,2.45 0 1,0 4.9,0a2.45,2.45 0 1,0 -4.9,0M17.6,216.3a2.45,2.45 0 1,0 4.9,0a2.45,2.45 0 1,0 -4.9,0M20.9,216.4a2.45,2.45 0 1,0 4.9,0a2.45,2.45 0 1,0 -4.9,0M22.9,214.2a2.45,2.45 0 1,0 4.9,0a2.45,2.45 0 1,0 -4.9,0M25.0,213.4a2.45,2.45 0 1,0 4.9,0a2.45,2.45 0 1,0 -4.9,0M27.3,211.1a2.45,2.45 0 1,0 4.9,0a2.45,2.45 0 1,0 -4.9,0M29.5,209.4a2.45,2.45 0 1,0 4.9,0a2.45,2.45 0 1,0 -4.9,0M32.8,207.1a2.45,2.45 0 1,0 4.9,0a2.45,2.45 0 1,0 -4.9,0M34.9,206.0a2.45,2.45 0 1,0 4.9,0a2.45,2.45 0 1,0 -4.9,0M37.0,204.7a2.45,2.45 0 1,0 4.9,0a2.45,2.45 0 1,0 -4.9,0M38.5,203.2a2.45,2.45 0 1,0 4.9,0a2.45,2.45 0 1,0 -4.9,0M40.8,200.3a2.45,2.45 0 1,0 4.9,0a2.45,2.45 0 1,0 -4.9,0M42.5,199.1a2.45,2.45 0 1,0 4.9,0a2.45,2.45 0 1,0 -4.9,0M45.1,196.6a2.45,2.45 0 1,0 4.9,0a2.45,2.45 0 1,0 -4.9,0M46.9,194.4a2.45,2.45 0 1,0 4.9,0a2.45,2.45 0 1,0 -4.9,0M49.3,192.9a2.45,2.45 0 1,0 4.9,0a2.45,2.45 0 1,0 -4.9,0M51.3,191.0a2.45,2.45 0 1,0 4.9,0a2.45,2.45 0 1,0 -4.9,0M54.5,188.6a2.45,2.45 0 1,0 4.9,0a2.45,2.45 0 1,0 -4.9,0M56.9,188.1a2.45,2.45 0 1,0 4.9,0a2.45,2.45 0 1,0 -4.9,0M59.3,186.1a2.45,2.45 0 1,0 4.9,0a2.45,2.45 0 1,0 -4.9,0M61.5,184.7a2.45,2.45 0 1,0 4.9,0a2.45,2.45 0 1,0 -4.9,0M64.5,183.5a2.45,2.45 0 1,0 4.9,0a2.45,2.45 0 1,0 -4.9,0M66.0,181.1a2.45,2.45 0 1,0 4.9,0a2.45,2.45 0 1,0 -4.9,0M67.8,178.6a2.45,2.45 0 1,0 4.9,0a2.45,2.45 0 1,0 -4.9,0M69.3,177.7a2.45,2.45 0 1,0 4.9,0a2.45,2.45 0 1,0 -4.9,0M71.5,175.5a2.45,2.45 0 1,0 4.9,0a2.45,2.45 0 1,0 -4.9,0M73.4,172.3a2.45,2.45 0 1,0 4.9,0a2.45,2.45 0 1,0 -4.9,0M75.7,170.1a2.45,2.45 0 1,0 4.9,0a2.45,2.45 0 1,0 -4.9,0M77.5,168.8a2.45,2.45 0 1,0 4.9,0a2.45,2.45 0 1,0 -4.9,0M79.6,166.4a2.45,2.45 0 1,0 4.9,0a2.45,2.45 0 1,0 -4.9,0M81.4,164.2a2.45,2.45 0 1,0 4.9,0a2.45,2.45 0 1,0 -4.9,0M83.6,161.8a2.45,2.45 0 1,0 4.9,0a2.45,2.45 0 1,0 -4.9,0M85.4,159.4a2.45,2.45 0 1,0 4.9,0a2.45,2.45 0 1,0 -4.9,0M87.5,158.4a2.45,2.45 0 1,0 4.9,0a2.45,2.45 0 1,0 -4.9,0M89.7,157.3a2.45,2.45 0 1,0 4.9,0a2.45,2.45 0 1,0 -4.9,0M91.4,155.0a2.45,2.45 0 1,0 4.9,0a2.45,2.45 0 1,0 -4.9,0M94.2,153.5a2.45,2.45 0 1,0 4.9,0a2.45,2.45 0 1,0 -4.9,0M95.9,152.4a2.45,2.45 0 1,0 4.9,0a2.45,2.45 0 1,0 -4.9,0M98.3,151.4a2.45,2.45 0 1,0 4.9,0a2.45,2.45 0 1,0 -4.9,0M101.6,149.2a2.45,2.45 0 1,0 4.9,0a2.45,2.45 0 1,0 -4.9,0M103.8,147.4a2.45,2.45 0 1,0 4.9,0a2.45,2.45 0 1,0 -4.9,0M105.9,146.0a2.45,2.45 0 1,0 4.9,0a2.45,2.45 0 1,0 -4.9,0M107.8,144.2a2.45,2.45 0 1,0 4.9,0a2.45,2.45 0 1,0 -4.9,0M110.1,143.7a2.45,2.45 0 1,0 4.9,0a2.45,2.45 0 1,0 -4.9,0M113.1,141.1a2.45,2.45 0 1,0 4.9,0a2.45,2.45 0 1,0 -4.9,0M115.8,141.0a2.45,2.45 0 1,0 4.9,0a2.45,2.45 0 1,0 -4.9,0M118.1,138.7a2.45,2.45 0 1,0 4.9,0a2.45,2.45 0 1,0 -4.9,0M120.5,137.9a2.45,2.45 0 1,0 4.9,0a2.45,2.45 0 1,0 -4.9,0M123.4,136.5a2.45,2.45 0 1,0 4.9,0a2.45,2.45 0 1,0 -4.9,0M125.3,135.1a2.45,2.45 0 1,0 4.9,0a2.45,2.45 0 1,0 -4.9,0M128.0,134.7a2.45,2.45 0 1,0 4.9,0a2.45,2.45 0 1,0 -4.9,0M130.5,132.9a2.45,2.45 0 1,0 4.9,0a2.45,2.45 0 1,0 -4.9,0M132.4,131.5a2.45,2.45 0 1,0 4.9,0a2.45,2.45 0 1,0 -4.9,0M134.4,129.4a2.45,2.45 0 1,0 4.9,0a2.45,2.45 0 1,0 -4.9,0M136.2,127.2a2.45,2.45 0 1,0 4.9,0a2.45,2.45 0 1,0 -4.9,0M138.8,124.9a2.45,2.45 0 1,0 4.9,0a2.45,2.45 0 1,0 -4.9,0M139.9,123.5a2.45,2.45 0 1,0 4.9,0a2.45,2.45 0 1,0 -4.9,0M141.9,120.7a2.45,2.45 0 1,0 4.9,0a2.45,2.45 0 1,0 -4.9,0M143.2,118.9a2.45,2.45 0 1,0 4.9,0a2.45,2.45 0 1,0 -4.9,0M145.5,117.6a2.45,2.45 0 1,0 4.9,0a2.45,2.45 0 1,0 -4.9,0M148.0,116.5a2.45,2.45 0 1,0 4.9,0a2.45,2.45 0 1,0 -4.9,0M150.1,113.2a2.45,2.45 0 1,0 4.9,0a2.45,2.45 0 1,0 -4.9,0M151.4,112.0a2.45,2.45 0 1,0 4.9,0a2.45,2.45 0 1,0 -4.9,0M154.4,110.1a2.45,2.45 0 1,0 4.9,0a2.45,2.45 0 1,0 -4.9,0M156.2,107.7a2.45,2.45 0 1,0 4.9,0a2.45,2.45 0 1,0 -4.9,0M158.0,107.0a2.45,2.45 0 1,0 4.9,0a2.45,2.45 0 1,0 -4.9,0M160.6,104.6a2.45,2.45 0 1,0 4.9,0a2.45,2.45 0 1,0 -4.9,0M162.9,101.6a2.45,2.45 0 1,0 4.9,0a2.45,2.45 0 1,0 -4.9,0M164.0,99.6a2.45,2.45 0 1,0 4.9,0a2.45,2.45 0 1,0 -4.9,0M166.2,98.5a2.45,2.45 0 1,0 4.9,0a2.45,2.45 0 1,0 -4.9,0M169.1,96.5a2.45,2.45 0 1,0 4.9,0a2.45,2.45 0 1,0 -4.9,0M171.0,95.1a2.45,2.45 0 1,0 4.9,0a2.45,2.45 0 1,0 -4.9,0M173.0,93.5a2.45,2.45 0 1,0 4.9,0a2.45,2.45 0 1,0 -4.9,0M175.0,92.4a2.45,2.45 0 1,0 4.9,0a2.45,2.45 0 1,0 -4.9,0M177.5,91.2a2.45,2.45 0 1,0 4.9,0a2.45,2.45 0 1,0 -4.9,0M180.2,89.0a2.45,2.45 0 1,0 4.9,0a2.45,2.45 0 1,0 -4.9,0M181.9,87.5a2.45,2.45 0 1,0 4.9,0a2.45,2.45 0 1,0 -4.9,0M184.6,86.6a2.45,2.45 0 1,0 4.9,0a2.45,2.45 0 1,0 -4.9,0M186.2,84.1a2.45,2.45 0 1,0 4.9,0a2.45,2.45 0 1,0 -4.9,0M189.0,82.9a2.45,2.45 0 1,0 4.9,0a2.45,2.45 0 1,0 -4.9,0M190.9,80.6a2.45,2.45 0 1,0 4.9,0a2.45,2.45 0 1,0 -4.9,0M193.1,78.6a2.45,2.45 0 1,0 4.9,0a2.45,2.45 0 1,0 -4.9,0M194.9,77.4a2.45,2.45 0 1,0 4.9,0a2.45,2.45 0 1,0 -4.9,0M197.8,75.5a2.45,2.45 0 1,0 4.9,0a2.45,2.45 0 1,0 -4.9,0M199.5,73.0a2.45,2.45 0 1,0 4.9,0a2.45,2.45 0 1,0 -4.9,0M200.7,70.3a2.45,2.45 0 1,0 4.9,0a2.45,2.45 0 1,0 -4.9,0M203.7,69.4a2.45,2.45 0 1,0 4.9,0a2.45,2.45 0 1,0 -4.9,0M205.5,67.0a2.45,2.45 0 1,0 4.9,0a2.45,2.45 0 1,0 -4.9,0M208.0,66.6a2.45,2.45 0 1,0 4.9,0a2.45,2.45 0 1,0 -4.9,0M210.7,65.0a2.45,2.45 0 1,0 4.9,0a2.45,2.45 0 1,0 -4.9,0M213.7,66.0a2.45,2.45 0 1,0 4.9,0a2.45,2.45 0 1,0 -4.9,0M216.3,64.9a2.45,2.45 0 1,0 4.9,0a2.45,2.45 0 1,0 -4.9,0M219.2,65.5a2.45,2.45 0 1,0 4.9,0a2.45,2.45 0 1,0 -4.9,0M222.3,65.1a2.45,2.45 0 1,0 4.9,0a2.45,2.45 0 1,0 -4.9,0M225.4,65.3a2.45,2.45 0 1,0 4.9,0a2.45,2.45 0 1,0 -4.9,0M228.1,63.7a2.45,2.45 0 1,0 4.9,0a2.45,2.45 0 1,0 -4.9,0M231.1,63.1a2.45,2.45 0 1,0 4.9,0a2.45,2.45 0 1,0 -4.9,0M233.8,62.1a2.45,2.45 0 1,0 4.9,0a2.45,2.45 0 1,0 -4.9,0M236.1,61.7a2.45,2.45 0 1,0 4.9,0a2.45,2.45 0 1,0 -4.9,0M238.8,60.5a2.45,2.45 0 1,0 4.9,0a2.45,2.45 0 1,0 -4.9,0M241.3,57.5a2.45,2.45 0 1,0 4.9,0a2.45,2.45 0 1,0 -4.9,0M242.8,55.9a2.45,2.45 0 1,0 4.9,0a2.45,2.45 0 1,0 -4.9,0M245.3,54.3a2.45,2.45 0 1,0 4.9,0a2.45,2.45 0 1,0 -4.9,0M247.0,51.5a2.45,2.45 0 1,0 4.9,0a2.45,2.45 0 1,0 -4.9,0M249.3,50.9a2.45,2.45 0 1,0 4.9,0a2.45,2.45 0 1,0 -4.9,0M251.8,48.0a2.45,2.45 0 1,0 4.9,0a2.45,2.45 0 1,0 -4.9,0M254.1,46.6a2.45,2.45 0 1,0 4.9,0a2.45,2.45 0 1,0 -4.9,0M257.2,45.3a2.45,2.45 0 1,0 4.9,0a2.45,2.45 0 1,0 -4.9,0M259.3,43.4a2.45,2.45 0 1,0 4.9,0a2.45,2.45 0 1,0 -4.9,0M261.7,40.4a2.45,2.45 0 1,0 4.9,0a2.45,2.45 0 1,0 -4.9,0M262.9,39.5a2.45,2.45 0 1,0 4.9,0a2.45,2.45 0 1,0 -4.9,0M265.8,36.2a2.45,2.45 0 1,0 4.9,0a2.45,2.45 0 1,0 -4.9,0M267.7,35.0a2.45,2.45 0 1,0 4.9,0a2.45,2.45 0 1,0 -4.9,0M269.9,33.1a2.45,2.45 0 1,0 4.9,0a2.45,2.45 0 1,0 -4.9,0M272.2,31.0a2.45,2.45 0 1,0 4.9,0a2.45,2.45 0 1,0 -4.9,0M274.9,30.3a2.45,2.45 0 1,0 4.9,0a2.45,2.45 0 1,0 -4.9,0M278.1,29.2a2.45,2.45 0 1,0 4.9,0a2.45,2.45 0 1,0 -4.9,0M280.7,29.3a2.45,2.45 0 1,0 4.9,0a2.45,2.45 0 1,0 -4.9,0M282.8,30.9a2.45,2.45 0 1,0 4.9,0a2.45,2.45 0 1,0 -4.9,0M286.1,30.5a2.45,2.45 0 1,0 4.9,0a2.45,2.45 0 1,0 -4.9,0M287.8,29.6a2.45,2.45 0 1,0 4.9,0a2.45,2.45 0 1,0 -4.9,0" fill="none" stroke="#111" stroke-width="0.9"/>
<polyline points="9.0,216.2 9.3,216.2 9.7,216.3 10.1,216.4 10.6,216.4 11.1,216.5 11.7,216.6 12.3,216.7 12.9,216.7 13.4,216.8 14.0,216.8 14.5,216.8 15.0,216.8 15.5,216.8 16.0,216.8 16.5,216.8 17.0,216.8 17.5,216.8 18.0,216.7 18.5,216.7 19.0,216.6 19.5,216.6 20.0,216.5 20.5,216.4 21.1,216.3 21.6,216.2 22.1,216.0 22.6,215.9 23.0,215.7 23.5,215.5 24.0,215.3 24.5,215.1 25.0,214.8 25.4,214.6 25.8,214.3 26.2,214.0 26.6,213.7 27.0,213.4 27.3,213.1 27.7,212.8 28.2,212.5 28.6,212.1 29.0,211.7 29.5,211.4 30.0,211.0 30.4,210.7 30.7,210.5 31.1,210.2 31.5,209.9 31.9,209.7 32.3,209.4 32.7,209.1 33.1,208.8 33.5,208.5 34.0,208.2 34.4,207.9 34.8,207.6 35.3,207.3 35.7,207.0 36.1,206.6 36.6,206.3 37.0,206.0 37.4,205.7 37.8,205.4 38.2,205.1 38.6,204.8 39.0,204.4 39.5,204.1 39.9,203.7 40.3,203.4 40.8,203.0 41.2,202.7 41.6,202.3 42.0,202.0 42.5,201.7 42.9,201.3 43.2,201.0 43.6,200.7 44.0,200.4 44.3,200.1 44.6,199.9 44.9,199.6 45.5,199.1 46.0,198.6 46.4,198.2 46.7,197.9 47.0,197.6 47.3,197.2 47.6,196.9 48.0,196.5 48.3,196.2 48.7,195.8 49.0,195.4 49.4,195.0 49.7,194.6 50.1,194.3 50.4,193.9 50.8,193.5 51.1,193.1 51.5,192.8 51.9,192.5 52.3,192.1 52.6,191.8 53.0,191.5 53.4,191.2 53.8,190.9 54.3,190.6 54.8,190.3 55.4,189.9 55.8,189.7 56.1,189.4 56.6,189.2 57.0,188.9 57.5,188.6 58.0,188.4 58.4,188.1 58.9,187.8 59.4,187.5 59.9,187.2 60.4,186.9 60.9,186.7 61.3,186.4 61.8,186.1 62.2,185.9 62.6,185.7 62.9,185.5 63.6,185.1 64.1,184.9 64.5,184.7 64.9,184.5 65.2,184.3 65.7,184.0 66.2,183.6 66.5,183.3 66.8,183.0 67.1,182.7 67.5,182.4 67.8,182.0 68.2,181.6 68.6,181.2 69.0,180.8 69.3,180.4 69.7,180.0 70.1,179.6 70.4,179.2 70.8,178.8 71.1,178.4 71.4,178.1 71.8,177.7 72.2,177.2 72.5,176.8 72.9,176.4 73.2,176.0 73.5,175.6 73.8,175.2 74.1,174.8 74.4,174.5 74.8,174.1 75.1,173.7 75.4,173.3 75.8,173.0 76.1,172.6 76.4,172.3 76.8,172.0 77.1,171.6 77.5,171.3 77.8,170.9 78.2,170.5 78.5,170.1 78.9,169.7 79.2,169.3 79.5,169.0 79.8,168.6 80.1,168.2 80.4,167.7 80.7,167.3 81.0,166.9 81.4,166.4 81.7,166.0 82.0,165.6 82.3,165.2 82.7,164.8 83.0,164.4 83.3,164.0 83.7,163.6 84.1,163.2 84.4,162.8 84.8,162.4 85.2,162.1 85.6,161.7 86.0,161.4 86.4,161.0 86.8,160.7 87.2,160.4 87.6,160.0 88.0,159.7 88.4,159.4 88.8,159.1 89.3,158.8 89.7,158.5 90.1,158.2 90.6,157.9 91.0,157.6 91.4,157.3 91.9,157.1 92.3,156.8 92.8,156.5 93.2,156.2 93.6,155.9 94.1,155.6 94.5,155.3 94.9,155.0 95.4,154.7 95.8,154.4 96.2,154.1 96.7,153.8 97.1,153.5 97.5,153.2 98.0,152.9 98.4,152.6 98.8,152.3 99.3,152.1 99.7,151.8 100.1,151.6 100.6,151.3 101.0,151.1 101.4,150.8 101.9,150.6 102.3,150.3 102.7,150.0 103.2,149.8 103.6,149.5 104.0,149.2 104.5,148.9 104.9,148.6 105.3,148.3 105.7,148.0 106.1,147.7 106.6,147.4 107.0,147.1 107.4,146.8 107.9,146.4 108.3,146.1 108.8,145.8 109.2,145.5 109.6,145.2 110.1,144.9 110.5,144.6 111.0,144.3 111.5,144.0 111.9,143.7 112.4,143.4 112.9,143.1 113.3,142.8 113.8,142.6 114.2,142.3 114.6,142.0 115.0,141.8 115.5,141.5 116.0,141.2 116.5,141.0 117.0,140.7 117.4,140.5 117.8,140.3 118.3,140.1 118.7,139.9 119.1,139.7 119.6,139.5 120.1,139.3 120.6,139.2 121.2,139.0 121.7,138.9 122.2,138.8 122.7,138.7 123.3,138.5 123.8,138.3 124.3,138.1 124.7,137.9 125.1,137.6 125.6,137.3 126.0,137.0 126.4,136.7 126.8,136.4 127.2,136.1 127.6,135.8 128.1,135.5 128.5,135.2 128.9,134.9 129.4,134.6 129.8,134.4 130.3,134.1 130.8,133.9 131.3,133.7 131.8,133.5 132.3,133.3 132.7,133.0 133.2,132.8 133.6,132.5 134.1,132.2 134.5,131.8 134.9,131.5 135.4,131.1 135.8,130.7 136.2,130.4 136.6,130.0 136.9,129.6 137.3,129.3 137.7,128.9 138.1,128.6 138.4,128.2 138.8,127.9 139.1,127.5 139.5,127.1 140.0,126.5 140.3,126.2 140.5,125.8 140.8,125.5 141.1,125.0 141.4,124.6 141.7,124.2 142.0,123.7 142.3,123.3 142.7,122.8 143.0,122.4 143.3,121.9 143.6,121.5 144.0,121.1 144.3,120.7 144.6,120.4 145.0,120.0 145.4,119.6 145.9,119.2 146.3,118.9 146.7,118.6 147.2,118.3 147.6,118.0 148.0,117.7 148.5,117.4 148.9,117.1 149.3,116.7 149.7,116.4 150.0,116.0 150.4,115.7 150.7,115.3 151.1,115.0 151.4,114.6 151.8,114.2 152.1,113.8 152.5,113.5 152.8,113.1 153.2,112.8 153.5,112.4 153.9,112.1 154.3,111.7 154.7,111.4 155.2,111.1 155.6,110.7 156.0,110.4 156.5,110.1 156.9,109.8 157.3,109.5 157.8,109.1 158.2,108.8 158.6,108.4 159.0,108.1 159.3,107.8 159.6,107.4 160.0,107.1 160.3,106.8 160.6,106.4 160.9,106.1 161.3,105.7 161.6,105.3 162.0,104.9 162.4,104.5 162.8,104.1 163.2,103.7 163.5,103.4 163.8,103.1 164.2,102.7 164.5,102.4 164.9,102.0 165.3,101.6 165.6,101.2 166.0,100.8 166.4,100.4 166.8,100.0 167.2,99.7 167.6,99.3 167.9,98.9 168.3,98.5 168.7,98.2 169.0,97.9 169.4,97.6 169.7,97.3 170.0,97.0 170.5,96.5 171.1,96.2 171.5,95.8 172.0,95.5 172.4,95.3 172.9,95.0 173.3,94.8 173.7,94.5 174.1,94.3 174.6,94.0 175.1,93.7 175.5,93.4 176.0,93.1 176.5,92.9 176.9,92.6 177.4,92.3 177.9,92.0 178.4,91.8 178.8,91.5 179.3,91.2 179.8,90.9 180.2,90.6 180.7,90.4 181.1,90.1 181.6,89.8 182.1,89.6 182.5,89.3 183.0,89.0 183.4,88.7 183.9,88.4 184.3,88.1 184.7,87.8 185.2,87.5 185.6,87.2 186.0,86.9 186.4,86.6 186.9,86.3 187.3,86.0 187.7,85.7 188.2,85.3 188.6,85.0 189.0,84.7 189.4,84.4 189.8,84.1 190.2,83.8 190.6,83.4 191.0,83.1 191.4,82.8 191.8,82.4 192.2,82.1 192.6,81.7 193.1,81.4 193.5,81.0 193.9,80.7 194.3,80.4 194.7,80.0 195.1,79.7 195.5,79.3 195.9,78.9 196.3,78.6 196.7,78.2 197.2,77.8 197.6,77.5 197.9,77.1 198.3,76.8 198.7,76.4 199.0,76.1 199.3,75.8 199.8,75.3 200.2,74.8 200.6,74.3 200.9,73.9 201.2,73.4 201.5,73.0 201.8,72.7 202.1,72.3 202.5,71.8 202.8,71.4 203.1,71.0 203.5,70.6 204.0,70.2 204.4,69.9 204.7,69.7 205.2,69.4 205.6,69.1 206.1,68.8 206.6,68.5 207.1,68.2 207.6,67.9 208.1,67.7 208.6,67.4 209.1,67.2 209.5,66.9 210.0,66.6 210.5,66.4 210.9,66.2 211.4,65.9 211.9,65.7 212.3,65.6 212.8,65.4 213.2,65.3 213.7,65.2 214.2,65.2 214.6,65.2 215.0,65.3 215.5,65.3 216.0,65.4 216.5,65.5 217.2,65.5 217.6,65.5 218.1,65.5 218.6,65.5 219.1,65.6 219.6,65.6 220.1,65.6 220.7,65.6 221.2,65.6 221.8,65.6 222.4,65.6 222.9,65.6 223.5,65.6 224.1,65.6 224.6,65.5 225.1,65.4 225.6,65.4 226.1,65.3 226.6,65.2 227.1,65.1 227.5,65.0 228.0,64.8 228.5,64.7 229.0,64.6 229.5,64.4 230.0,64.3 230.6,64.1 231.1,64.0 231.6,63.8 232.2,63.6 232.6,63.5 233.1,63.3 233.5,63.2 234.0,63.0 234.5,62.9 234.9,62.7 235.4,62.6 235.9,62.4 236.4,62.3 236.9,62.1 237.3,61.9 237.8,61.7 238.3,61.5 238.8,61.3 239.3,61.1 239.7,60.9 240.2,60.7 240.6,60.4 241.1,60.2 241.5,59.9 241.9,59.6 242.3,59.3 242.7,59.0 243.0,58.7 243.4,58.3 243.8,57.9 244.1,57.6 244.5,57.2 244.8,56.8 245.2,56.4 245.5,56.0 245.9,55.6 246.2,55.2 246.6,54.8 246.9,54.4 247.2,54.1 247.6,53.7 247.9,53.3 248.2,53.0 248.6,52.7 248.9,52.4 249.4,52.0 249.8,51.7 250.3,51.3 250.7,51.0 251.2,50.7 251.6,50.5 252.1,50.2 252.5,49.9 252.9,49.7 253.4,49.4 253.8,49.2 254.2,48.9 254.7,48.6 255.1,48.3 255.5,48.0 255.9,47.7 256.3,47.4 256.7,47.1 257.0,46.8 257.4,46.4 257.8,46.1 258.1,45.8 258.5,45.4 258.9,45.1 259.2,44.8 259.6,44.4 260.0,44.1 260.4,43.7 260.7,43.4 261.1,43.0 261.5,42.7 261.9,42.4 262.2,42.0 262.6,41.7 263.0,41.4 263.4,41.0 263.8,40.7 264.1,40.3 264.5,40.0 264.9,39.6 265.3,39.2 265.7,38.9 266.1,38.6 266.5,38.2 266.8,37.9 267.2,37.5 267.6,37.2 268.0,36.9 268.4,36.6 268.8,36.2 269.2,35.9 269.6,35.6 270.0,35.2 270.4,34.9 270.8,34.6 271.2,34.2 271.7,33.9 272.1,33.6 272.5,33.3 272.9,33.0 273.3,32.8 273.7,32.5 274.1,32.2 274.5,32.0 275.0,31.7 275.5,31.5 276.0,31.2 276.5,31.0 277.1,30.7 277.6,30.5 278.1,30.3 278.6,30.2 279.1,30.0 279.6,29.9 280.1,29.8 280.5,29.7 281.0,29.6 281.6,29.6 282.2,29.6 282.7,29.7 283.3,29.8 283.8,30.0 284.3,30.1 284.9,30.3 285.3,30.4 285.8,30.5 286.3,30.6 287.0,30.6 287.6,30.6 288.2,30.6 288.8,30.5 289.4,30.4 289.8,30.3 290.2,30.2 290.7,29.7 290.9,29.0 291.0,28.5" fill="none" stroke="#ff0000" stroke-width="1.5" stroke-linejoin="round" stroke-linecap="round" />
<text x="185.20" y="29.40" font-size="13.2" font-weight="normal" fill="#000">Sample S</text>
<line x1="243.7" y1="35" x2="255.5" y2="40.6" stroke="#000" stroke-width="1.3"/>
<polygon points="258.5,42 250.5,41.5 253.5,36" fill="#000"/>
<text x="228.40" y="93.20" font-size="13.4" font-weight="normal" fill="#000">Sample A2</text>
<line x1="268.2" y1="75.5" x2="266.3" y2="66" stroke="#000" stroke-width="1.3"/>
<polygon points="265.6,62.2 263.2,69.3 269.0,68.3" fill="#000"/>
<text x="5.10" y="12.90" font-size="17" font-weight="bold" fill="#000">(a)</text>
<g transform="translate(78.00,77.10) rotate(-90)"><text x="0" y="0" font-size="17.5">V/V</text><text x="29.60" y="9.0" font-size="12">0</text></g>
<text x="191.50" y="186" font-size="18">j/j</text>
<text x="204.70" y="191.20" font-size="10.5" font-weight="normal" fill="#000">d</text>
<line x1="351.8" y1="2.7" x2="351.8" y2="259.6" stroke="#3a3a3a" stroke-width="1.2"/>
<line x1="347.2" y1="29.200000000000017" x2="351.8" y2="29.200000000000017" stroke="#3a3a3a" stroke-width="1.2"/>
<line x1="347.2" y1="82.50000000000001" x2="351.8" y2="82.50000000000001" stroke="#3a3a3a" stroke-width="1.2"/>
<line x1="347.2" y1="135.8" x2="351.8" y2="135.8" stroke="#3a3a3a" stroke-width="1.2"/>
<line x1="347.2" y1="189.10000000000002" x2="351.8" y2="189.10000000000002" stroke="#3a3a3a" stroke-width="1.2"/>
<line x1="347.2" y1="242.4" x2="351.8" y2="242.4" stroke="#3a3a3a" stroke-width="1.2"/>
<line x1="349.3" y1="2.5500000000000114" x2="351.8" y2="2.5500000000000114" stroke="#3a3a3a" stroke-width="1.2"/>
<line x1="349.3" y1="55.85000000000001" x2="351.8" y2="55.85000000000001" stroke="#3a3a3a" stroke-width="1.2"/>
<line x1="349.3" y1="109.15" x2="351.8" y2="109.15" stroke="#3a3a3a" stroke-width="1.2"/>
<line x1="349.3" y1="162.45000000000002" x2="351.8" y2="162.45000000000002" stroke="#3a3a3a" stroke-width="1.2"/>
<line x1="349.3" y1="215.75" x2="351.8" y2="215.75" stroke="#3a3a3a" stroke-width="1.2"/>
<text x="323.80" y="33.70" font-size="14.5" font-weight="normal" fill="#000">0.6</text>
<text x="323.80" y="87.00" font-size="14.5" font-weight="normal" fill="#000">0.3</text>
<text x="323.70" y="140.30" font-size="14.5" font-weight="normal" fill="#000">0.0</text>
<text x="319.00" y="193.60" font-size="14.5" font-weight="normal" fill="#000">-0.3</text>
<text x="319.00" y="246.90" font-size="14.5" font-weight="normal" fill="#000">-0.6</text>
<line x1="351.8" y1="135.8" x2="621.8" y2="135.8" stroke="#3a3a3a" stroke-width="1.2"/>
<line x1="351.8" y1="135.8" x2="351.8" y2="139.8" stroke="#3a3a3a" stroke-width="1.2"/>
<line x1="411.8" y1="135.8" x2="411.8" y2="139.8" stroke="#3a3a3a" stroke-width="1.2"/>
<line x1="471.8" y1="135.8" x2="471.8" y2="139.8" stroke="#3a3a3a" stroke-width="1.2"/>
<line x1="531.8" y1="135.8" x2="531.8" y2="139.8" stroke="#3a3a3a" stroke-width="1.2"/>
<line x1="591.8" y1="135.8" x2="591.8" y2="139.8" stroke="#3a3a3a" stroke-width="1.2"/>
<line x1="381.8" y1="135.8" x2="381.8" y2="138.6" stroke="#3a3a3a" stroke-width="1.2"/>
<line x1="441.8" y1="135.8" x2="441.8" y2="138.6" stroke="#3a3a3a" stroke-width="1.2"/>
<line x1="501.8" y1="135.8" x2="501.8" y2="138.6" stroke="#3a3a3a" stroke-width="1.2"/>
<line x1="561.8" y1="135.8" x2="561.8" y2="138.6" stroke="#3a3a3a" stroke-width="1.2"/>
<line x1="621.8" y1="135.8" x2="621.8" y2="138.6" stroke="#3a3a3a" stroke-width="1.2"/>
<text x="347.95" y="154.30" font-size="14" font-weight="normal" fill="#000">0</text>
<text x="407.70" y="154.30" font-size="14" font-weight="normal" fill="#000">1</text>
<text x="467.90" y="154.30" font-size="14" font-weight="normal" fill="#000">2</text>
<text x="527.95" y="154.30" font-size="14" font-weight="normal" fill="#000">3</text>
<text x="587.95" y="154.30" font-size="14" font-weight="normal" fill="#000">4</text>
<polyline points="352.0,136.0 353.6,135.7 355.1,135.6 356.9,136.0 358.6,135.0 360.3,134.8 362.0,134.6 363.6,133.8 365.1,134.0 366.6,134.0 368.3,134.0 369.9,132.6 371.5,132.5 373.0,131.8 374.8,132.5 376.3,132.2 378.0,131.4 379.6,133.6 381.1,134.2 382.5,134.3 384.0,134.9 385.5,134.8 387.2,135.2 388.7,136.6 389.7,137.1 390.7,138.8 391.6,140.3 392.4,141.5 393.1,143.7 393.9,145.3 394.5,147.4 395.0,148.4 395.5,150.1 396.0,151.6 396.2,153.6 396.4,155.0 396.6,156.2 396.8,158.9 397.0,160.6 397.4,162.0 397.7,163.3 398.1,164.2 398.5,165.7 398.9,167.3 399.3,168.5 399.7,171.1 400.2,172.2 400.7,174.5 401.2,175.4 401.7,177.8 402.2,179.3 402.8,179.4 403.4,181.2 404.2,183.8 405.2,184.5 406.5,186.5 407.9,186.3 409.4,186.4 411.1,187.3 412.5,186.9 414.0,185.3 415.5,184.5 416.9,184.5 418.5,185.1 420.1,184.5 421.8,183.4 423.6,183.8 425.2,184.2 426.5,184.9 427.8,187.1 428.9,187.2 430.0,189.1 430.9,190.1 431.8,191.1 432.7,193.6 433.4,194.0 434.1,196.3 434.7,197.0 435.2,199.0 435.7,200.1 436.3,201.8 436.8,204.4 437.3,205.7 437.9,206.3 438.4,208.7 439.0,209.0 439.6,210.8 440.2,213.0 440.8,214.1 441.4,214.6 441.9,217.5 442.7,217.9 443.4,219.5 444.1,221.9 444.8,222.7 445.5,224.2 446.2,225.3 446.9,226.7 447.5,228.9 448.4,229.9 449.2,232.0 450.0,232.9 450.9,234.5 451.9,236.6 452.8,237.1 454.0,238.4 455.4,239.8 456.7,239.4 458.2,239.8 459.8,241.2 461.3,241.2 463.1,240.1 464.7,239.6 466.4,239.8 467.8,239.5 469.3,237.7 470.7,238.5 472.5,238.0 474.0,237.2 475.5,236.6 477.0,235.6 478.5,234.9 480.0,235.5 481.4,233.4 482.6,233.1 483.7,231.4 484.8,231.2 485.8,229.7 486.8,228.0 487.7,226.6 488.5,226.1 489.3,223.6 490.1,222.5 490.8,221.7 491.6,220.6 492.4,218.8 493.0,216.5 493.6,215.9 494.3,213.3 495.7,212.2 497.2,212.8 498.6,214.2 499.6,215.2 500.3,216.9 500.9,218.7 501.3,220.4 501.8,221.3 502.3,223.3 502.7,225.9 503.2,227.7 503.6,228.9 504.1,230.5 504.5,232.0 505.0,232.7 505.6,234.1 506.2,235.7 506.9,238.6 507.5,239.6 508.2,241.5 508.7,241.5 509.3,244.0 509.8,245.3 510.4,247.3 510.9,248.1 511.6,250.6 512.6,250.7 513.7,252.5 515.0,253.8 516.4,255.1 517.8,255.4 519.3,254.8 520.3,253.8 521.3,252.5 522.1,250.2 522.6,249.2 523.1,247.9 523.5,246.3 524.2,244.0 525.6,243.9 526.4,242.5 527.0,240.6 527.6,239.1 528.1,237.2 528.7,236.0 529.3,234.4 529.8,232.0 530.4,231.3 531.0,230.4 531.5,228.8 532.1,227.0 532.7,224.9 533.2,223.9 533.8,222.1 534.3,220.4 535.0,219.5 535.7,216.8 536.6,216.6 537.7,214.3 539.1,214.2 540.5,213.4 542.2,212.7 543.8,213.6 545.2,214.2 546.4,215.5 547.5,217.3 548.6,217.3 549.7,218.0 550.9,219.7 551.9,221.4 553.0,222.0 553.9,223.4 554.7,226.0 555.5,227.0 556.3,228.1 557.1,230.2 558.1,230.7 559.3,232.6 560.4,232.9 561.8,234.3 563.0,235.9 564.4,237.2 565.6,238.0 567.2,238.0 568.7,238.9 570.2,238.8 571.8,238.9 573.4,239.8 574.9,240.7 576.7,241.3 578.1,241.7 579.7,242.9 581.4,242.4 583.1,242.3 584.6,242.6 586.2,242.1 587.8,241.6 589.5,241.5 591.0,241.4 592.6,240.6 594.2,239.4 595.4,239.2 596.5,238.2 597.5,236.1 598.4,234.2 599.5,232.8 600.6,233.1 602.0,230.7 603.3,230.9 604.7,230.0 606.0,228.8 607.5,228.7 608.8,226.6 610.1,225.9 611.5,225.3 612.7,223.7 614.0,224.0 615.2,222.2 616.6,220.9 618.0,219.7 619.4,219.6 620.7,218.3 621.3,217.9" fill="none" stroke="#1c8c1c" stroke-width="1.4" stroke-linejoin="round" stroke-linecap="round" />
<polyline points="352.0,136.0 353.6,135.9 355.2,136.2 356.9,136.2 358.5,135.2 360.3,135.0 361.8,135.6 363.4,135.4 365.0,136.3 366.7,136.1 368.4,135.9 370.2,135.8 372.0,135.9 373.8,135.0 375.6,135.5 377.5,135.0 379.3,136.3 381.1,134.7 382.9,136.0 384.7,134.7 386.4,135.7 388.1,135.1 389.7,135.1 391.3,135.9 392.8,134.4 394.6,134.4 396.2,135.9 397.9,135.1 399.4,134.3 401.4,135.8 403.2,135.6 404.7,134.0 406.3,134.3 408.0,133.5 409.5,133.3 411.2,133.6 412.9,132.8 414.6,134.0 416.2,133.1 417.7,133.7 419.3,135.4 420.9,135.3 422.2,136.1 423.5,137.4 424.6,138.2 425.6,139.1 426.6,139.8 427.6,142.4 428.4,144.3 429.2,145.9 429.9,146.8 430.5,147.7 431.2,149.2 431.8,151.4 432.5,153.0 433.0,153.4 433.5,155.1 434.0,156.8 434.5,158.5 435.1,160.5 435.6,161.4 436.1,162.0 436.7,164.9 437.2,165.6 437.7,167.3 438.3,168.2 438.8,170.0 439.4,171.6 440.1,173.8 440.7,174.1 441.5,176.5 442.2,177.4 442.9,179.8 443.6,179.9 444.3,181.8 445.2,183.7 445.8,185.6 447.1,185.1 448.3,184.9 449.4,183.1 450.2,181.9 450.9,180.8 451.4,180.2 451.9,177.7 452.3,177.1 452.7,174.1 453.0,173.8 453.4,171.1 453.8,169.3 454.1,168.6 454.5,167.2 454.8,164.0 455.1,163.0 455.4,162.3 455.7,160.0 456.0,158.3 456.3,156.3 456.6,154.9 456.9,154.4 457.2,153.5 457.5,151.9 457.8,149.4 458.1,147.0 458.4,146.0 458.7,145.3 459.1,143.7 459.4,141.8 459.8,139.6 460.2,138.7 460.8,137.0 461.4,135.7 462.2,133.6 463.2,133.4 464.4,131.9 465.7,129.5 467.2,128.9 468.7,130.4 469.7,130.8 470.6,133.6 471.3,134.5 472.1,136.2 472.9,137.8 473.6,138.4 474.3,140.0 474.9,141.4 475.5,143.7 476.1,145.2 476.7,145.7 477.3,148.6 477.9,149.2 478.5,150.2 479.3,152.0 480.1,154.4 481.0,155.0 481.8,156.4 482.7,158.3 483.7,159.7 484.8,160.7 486.1,161.2 487.5,161.8 489.2,161.7 490.4,160.2 491.4,158.4 492.3,156.4 493.1,155.0 493.9,154.2 494.6,152.4 495.4,150.0 496.1,149.9 496.8,148.7 497.5,147.1 498.1,145.8 498.8,144.5 499.6,142.4 500.5,141.3 501.4,139.2 502.5,137.5 503.9,136.8 505.3,135.8 506.7,136.2 508.3,135.2 509.8,134.4 511.2,134.2 512.8,133.0 514.5,133.4 516.1,133.4 517.8,132.6 519.4,132.3 521.0,132.6 522.7,132.9 524.1,134.1 525.5,134.0 526.8,135.0 528.0,136.4 529.4,138.3 530.6,139.3 531.9,140.2 533.1,141.7 534.4,141.7 535.6,142.2 536.9,144.0 538.2,144.9 539.6,145.5 540.9,147.2 542.4,147.5 543.7,148.2 545.1,149.1 546.7,150.8 548.3,149.3 549.9,149.7 551.4,148.9 552.9,147.9 554.2,147.3 555.5,145.9 556.8,146.1 558.0,144.4 559.4,143.7 560.6,141.8 561.7,141.3 562.9,140.5 564.0,139.9 565.2,137.8 566.3,137.1 567.5,136.8 568.6,135.7 569.8,133.6 570.9,133.0 572.1,132.4 573.2,130.7 574.6,130.1 576.0,129.1 577.3,128.9 578.9,127.3 580.5,126.9 582.2,125.7 583.7,125.9 585.1,124.7 586.8,124.5 588.3,123.8 589.9,123.3 591.4,122.6 593.0,122.5 594.7,123.0 596.4,122.7 598.0,122.8 599.6,125.0 600.8,124.9 602.1,127.0 603.4,127.3 604.7,127.8 606.2,129.5 607.5,130.3 608.9,130.0 610.2,130.4 611.6,132.1 612.8,133.3 614.3,133.9 615.4,135.3 616.6,135.8 617.7,137.6 618.8,138.3 619.7,139.8 620.7,141.1 621.4,142.3" fill="none" stroke="#ff66ff" stroke-width="1.5" stroke-linejoin="round" stroke-linecap="round" />
<polyline points="352.0,136.0 353.5,135.6 355.2,136.3 356.9,136.3 358.5,136.6 360.2,135.5 362.0,135.5 363.6,135.4 365.2,135.5 366.9,136.5 368.6,135.4 370.4,136.1 372.1,135.5 373.9,135.7 375.8,135.9 377.6,136.7 379.4,136.3 381.2,135.2 383.0,135.7 384.7,135.4 386.5,136.7 388.2,136.6 389.8,136.6 391.4,136.7 392.9,136.5 394.7,136.9 396.3,136.6 397.8,135.6 399.4,136.6 401.2,136.0 402.8,136.4 404.7,136.0 406.3,135.7 408.0,135.5 409.7,135.5 411.2,135.2 412.8,134.6 414.4,135.6 416.0,135.4 417.7,135.4 419.4,134.5 420.9,133.9 422.6,133.7 424.2,132.1 425.8,132.7 427.4,131.9 429.0,131.3 430.7,131.2 432.3,131.0 433.4,129.3 434.3,128.2 435.0,127.1 435.6,125.2 436.2,123.2 436.9,122.3 437.6,120.4 438.3,119.0 439.1,117.4 439.9,116.2 440.8,114.2 441.6,113.9 442.4,113.1 443.6,110.6 445.2,110.7 446.9,110.8 448.5,109.4 449.6,110.7 450.4,113.4 451.1,115.1 451.6,116.3 452.2,117.1 452.7,119.2 453.3,121.5 453.8,123.2 454.3,124.5 454.7,124.9 455.2,127.6 455.6,128.2 456.1,130.3 456.8,130.9 457.4,133.8 458.2,134.6 459.0,136.4 459.9,136.9 460.8,138.9 461.8,140.2 463.0,141.4 464.5,140.7 465.5,139.8 466.3,137.5 466.9,136.0 467.4,134.1 468.0,133.4 468.6,130.9 469.3,129.8 470.1,128.1 470.8,127.5 471.4,125.7 471.9,124.1 472.3,121.5 472.7,120.5 473.1,118.8 473.5,116.8 473.8,115.0 474.2,115.1 474.6,111.9 475.0,110.5 475.4,108.9 475.8,107.9 476.2,105.3 476.7,104.4 477.2,102.8 477.7,102.2 478.4,99.1 479.0,98.3 479.8,97.1 480.6,96.5 481.5,94.4 482.5,92.8 483.4,91.7 484.5,89.6 485.5,87.8 486.6,87.4 487.7,87.0 489.0,85.8 490.4,84.7 491.8,86.5 492.9,88.0 494.1,88.2 495.2,90.1 496.1,90.9 497.1,92.1 498.0,93.7 498.8,95.1 499.5,96.9 500.1,97.9 500.7,100.2 501.2,101.1 501.7,103.8 502.1,105.0 502.6,105.5 503.1,108.4 503.5,108.9 504.0,111.0 504.5,112.6 504.9,113.6 505.4,115.0 505.9,116.8 506.3,117.9 506.8,120.7 507.2,120.9 507.7,123.7 508.1,124.0 508.7,125.9 509.2,127.6 509.6,128.4 510.2,130.3 510.8,132.4 511.4,134.1 511.9,136.3 512.5,138.0 513.1,137.8 513.7,140.2 514.2,141.1 515.5,142.6 516.6,140.8 517.7,140.7 518.6,138.8 519.6,136.7 520.6,135.0 521.4,134.1 522.1,133.9 522.8,131.2 523.5,130.3 524.1,128.4 524.6,126.8 525.1,126.1 525.6,123.4 526.2,122.7 526.7,121.0 527.2,119.9 527.7,117.7 528.2,116.8 528.8,114.5 529.5,113.2 530.3,111.9 531.1,110.8 532.1,109.5 533.1,106.8 534.2,105.5 535.2,104.9 536.3,104.2 537.6,102.6 539.0,101.1 540.2,101.4 541.7,99.2 543.0,97.9 544.4,97.0 546.0,96.2 547.5,96.7 548.9,95.0 550.4,95.5 551.9,95.2 553.5,94.8 555.0,93.9 556.5,92.7 558.1,92.5 559.8,92.3 561.3,91.7 562.8,90.6 564.4,91.2 566.0,89.8 567.6,89.9 569.1,90.8 570.8,89.6 572.6,89.2 574.4,90.1 576.1,89.6 577.7,89.0 579.3,89.6 581.0,90.7 582.4,91.4 583.9,93.2 585.3,92.7 586.6,94.5 588.0,95.2 589.4,95.2 590.8,97.0 592.3,97.5 593.7,97.9 595.0,98.3 596.2,99.5 597.5,101.2 598.8,101.3 600.2,101.6 601.7,102.9 603.1,103.9 604.4,104.2 605.8,105.8 607.3,105.8 608.6,108.1 609.9,107.8 611.3,108.6 612.5,110.4 613.8,110.9 615.2,113.0 616.6,113.4 617.9,114.6 619.2,116.2 620.4,116.1 621.2,117.2" fill="none" stroke="#000000" stroke-width="1.3" stroke-linejoin="round" stroke-linecap="round" />
<polyline points="352.0,136.0 353.5,135.2 355.0,136.1 356.8,135.9 358.6,136.3 360.3,135.1 362.0,135.2 363.5,136.3 365.0,136.3 366.6,135.9 368.2,136.8 369.7,136.3 371.2,137.0 372.7,135.6 374.2,135.6 375.8,136.6 377.3,135.4 378.8,135.1 380.3,136.1 381.8,135.8 383.3,135.1 384.8,136.1 386.4,136.5 387.9,135.8 389.4,136.8 390.9,135.8 392.5,136.1 394.0,135.5 395.6,135.6 397.1,136.8 398.9,135.7 400.7,136.7 402.3,135.8 403.9,136.4 405.7,137.0 407.3,136.6 408.9,135.2 410.4,135.3 411.7,134.2 412.7,132.1 413.6,130.6 414.4,130.7 415.3,128.6 416.1,126.5 416.8,125.5 417.5,123.6 418.2,123.1 418.9,121.0 419.5,118.7 420.1,118.4 420.6,115.4 421.0,114.3 421.5,112.3 421.9,112.0 422.3,109.3 422.7,108.5 423.1,106.2 423.5,105.4 424.0,104.0 424.4,102.2 424.9,100.4 425.5,98.7 426.1,97.0 426.6,95.8 427.2,93.4 427.8,92.6 428.4,90.8 429.1,90.5 429.9,89.0 430.7,86.0 431.7,84.7 432.8,84.3 434.3,83.4 435.9,83.1 436.9,85.5 438.2,85.6 438.8,83.0 440.1,81.9 441.6,81.9 443.2,82.0 444.5,79.6 445.6,78.3 446.4,76.6 447.1,76.0 447.8,74.1 448.4,72.2 449.0,70.9 449.5,68.8 450.1,67.9 450.9,67.6 451.6,65.5 452.4,63.7 453.2,63.3 453.9,60.9 454.6,59.2 455.3,57.2 456.0,55.7 456.6,54.3 457.2,53.0 457.8,52.6 458.5,50.0 459.1,48.4 459.7,47.6 460.4,46.6 461.1,43.8 461.8,43.0 462.5,40.7 463.2,39.5 463.9,38.2 464.7,38.5 466.4,38.7 467.8,39.5 468.6,41.6 469.1,42.4 469.6,44.0 470.0,46.6 470.3,47.4 470.7,49.5 471.0,50.2 471.3,52.9 471.6,54.0 471.8,54.9 472.1,57.6 472.4,58.3 472.7,59.6 473.0,60.9 473.4,62.4 473.8,64.3 474.2,66.6 474.6,67.1 475.1,69.0 475.5,70.8 476.0,72.5 476.5,73.7 477.0,75.9 477.5,76.4 478.1,78.0 478.7,79.6 479.5,80.6 480.2,82.4 481.0,83.8 481.8,86.2 482.7,86.6 483.8,88.9 485.2,87.6 486.3,87.1 487.4,85.9 488.5,84.1 489.5,83.9 490.5,82.1 491.5,80.3 492.3,78.0 493.0,77.2 493.7,75.4 494.3,74.4 494.8,73.7 495.4,72.1 495.9,69.1 496.5,68.6 497.0,67.5 497.6,65.3 498.1,63.1 498.7,63.0 499.3,60.8 500.1,60.1 500.8,58.4 501.5,56.9 502.3,55.5 503.1,52.5 503.8,52.4 504.5,50.2 505.3,48.3 506.0,47.3 506.9,46.2 507.9,44.0 509.4,44.0 510.9,44.4 512.6,43.8 514.3,43.9 515.8,43.6 517.3,45.1 518.9,44.1 520.5,45.1 522.2,45.0 523.7,43.4 525.1,44.3 526.4,41.9 527.9,42.4 529.7,42.3 531.2,42.6 532.7,43.1 534.2,42.9 535.8,43.7 537.3,44.4 538.6,46.3 539.9,45.7 541.1,47.1 542.2,50.1 543.2,51.1 544.1,52.3 545.0,54.1 546.1,54.7 547.1,56.3 548.3,57.0 549.5,59.1 550.8,58.5 552.4,59.3 553.8,58.8 554.9,58.1 555.9,56.3 556.9,55.5 557.9,54.6 558.9,52.2 559.8,50.3 560.7,48.5 561.6,48.5 562.3,46.4 562.9,44.8 563.5,43.5 564.1,41.3 564.6,40.0 565.2,38.5 565.9,36.9 566.7,36.6 567.6,34.2 568.7,32.6 569.9,32.8 571.1,31.2 572.5,29.2 573.8,29.4 575.2,28.3 576.6,27.3 578.0,26.9 579.7,25.9 581.5,25.3 583.1,26.2 584.6,26.2 586.3,26.7 587.9,26.5 589.3,27.6 590.8,29.1 592.1,29.6 593.4,31.1 594.5,32.0 595.7,33.6 596.8,34.0 598.0,35.4 599.3,37.2 600.5,37.6 601.6,38.4 602.6,40.3 603.7,40.5 604.7,42.9 605.8,42.9 607.1,45.3 608.3,45.9 609.6,46.4 610.9,48.3 612.0,49.7 613.1,50.5 614.2,51.8 615.4,52.5 616.6,54.9 617.9,54.7 619.1,57.0 620.2,56.8 621.3,58.7 622.0,59.4" fill="none" stroke="#0000ff" stroke-width="1.4" stroke-linejoin="round" stroke-linecap="round" />
<text x="465.25" y="29.50" font-size="13.5" font-weight="normal" fill="#000">1</text>
<text x="522.45" y="32.70" font-size="13.5" font-weight="normal" fill="#000">2</text>
<text x="592.60" y="17.80" font-size="13.5" font-weight="normal" fill="#000">3</text>
<text x="447.25" y="103.00" font-size="13.5" font-weight="normal" fill="#000">1</text>
<text x="500.45" y="85.10" font-size="13.5" font-weight="normal" fill="#000">2</text>
<text x="574.20" y="77.80" font-size="13.5" font-weight="normal" fill="#000">3</text>
<text x="451.25" y="189.10" font-size="13.5" font-weight="normal" fill="#000">1</text>
<text x="491.05" y="171.20" font-size="13.5" font-weight="normal" fill="#000">2</text>
<text x="548.40" y="160.00" font-size="13.5" font-weight="normal" fill="#000">3</text>
<text x="406.25" y="203.80" font-size="13.5" font-weight="normal" fill="#000">1</text>
<text x="465.15" y="253.80" font-size="13.5" font-weight="normal" fill="#000">2</text>
<text x="522.10" y="266.10" font-size="13.5" font-weight="normal" fill="#000">3</text>
<text x="579.00" y="233.60" font-size="13.5" font-weight="normal" fill="#000">4</text>
<text x="633.30" y="67.20" font-size="13.2" font-weight="normal" fill="#000">0.55</text>
<text x="634.10" y="116.80" font-size="13.2" font-weight="normal" fill="#000">0.25</text>
<text x="633.20" y="142.30" font-size="13.2" font-weight="normal" fill="#000">0.05</text>
<text x="629.60" y="224.80" font-size="13.5" font-weight="normal" fill="#000">-0.45</text>
<text x="550.00" y="265.60" font-size="14.5" font-weight="normal" fill="#000">Sample A2</text>
<text x="627.30" y="35.1" font-size="16.5">j/j</text>
<text x="639.60" y="39.50" font-size="9.5" font-weight="normal" fill="#000">d</text>
<text x="645.00" y="35.10" font-size="16.5" font-weight="normal" fill="#000">=</text>
<text x="569.60" y="187" font-size="15.5">j</text>
<text x="573.50" y="177.10" font-size="13" font-weight="normal" fill="#000">mw</text>
<text x="593.30" y="187" font-size="15.5">/j</text>
<text x="600.20" y="194.20" font-size="12" font-weight="normal" fill="#000">d</text>
<text x="601.70" y="177.10" font-size="13" font-weight="normal" fill="#000">mw</text>
<text x="313.70" y="12.60" font-size="17" font-weight="bold" fill="#000">(b)</text>
<g transform="translate(371.40,50.20) rotate(-90)"><text x="0" y="0" font-size="17.5">V/V</text><text x="29.60" y="9.0" font-size="12">0</text></g>
</svg>
</body></html>
